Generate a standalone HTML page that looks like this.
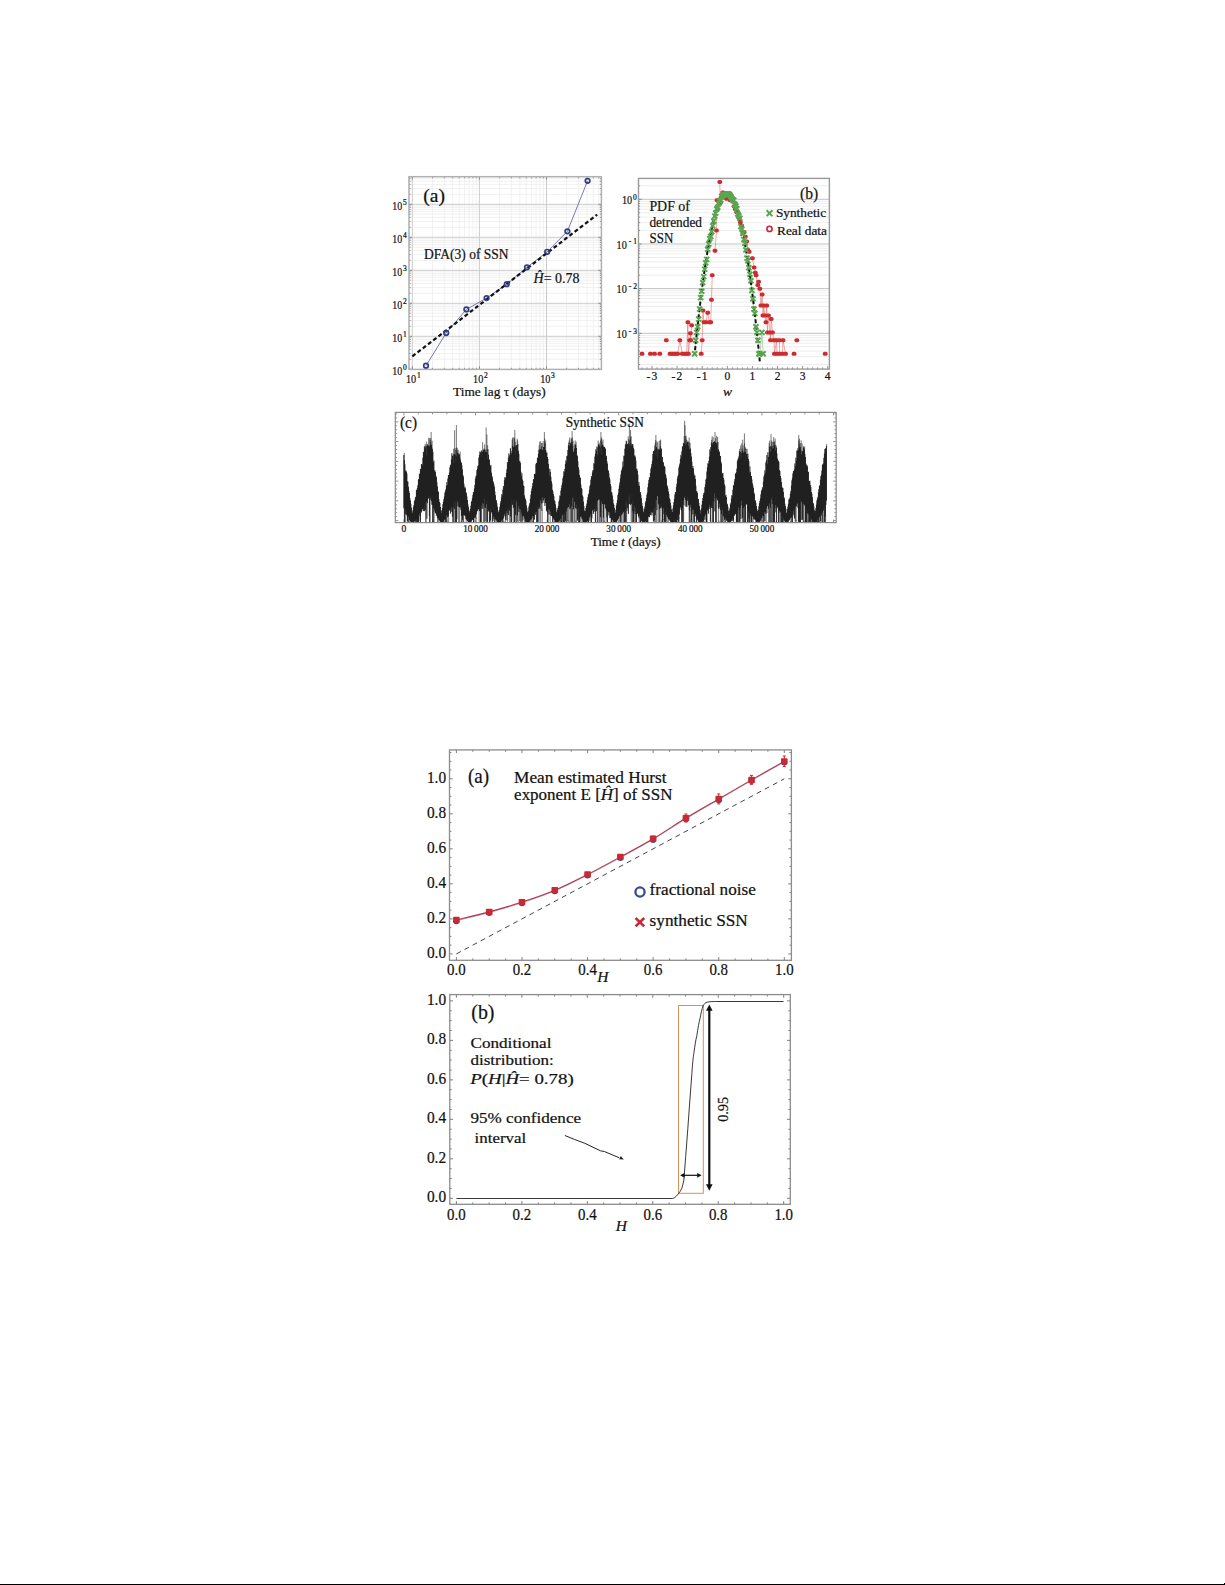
<!DOCTYPE html>
<html><head><meta charset="utf-8"><title>Figure</title>
<style>html,body{margin:0;padding:0;background:#fff;}svg{display:block;}</style>
</head><body>
<svg width="1225" height="1585" viewBox="0 0 1225 1585">
<rect x="0" y="0" width="1225" height="1585" fill="#fff"/>
<g id="f1a">
<g stroke="#eeeeee" stroke-width="0.8">
<line x1="409.23" y1="176.7" x2="409.23" y2="369.4"/>
<line x1="432.5" y1="176.7" x2="432.5" y2="369.4"/>
<line x1="444.31" y1="176.7" x2="444.31" y2="369.4"/>
<line x1="452.7" y1="176.7" x2="452.7" y2="369.4"/>
<line x1="459.2" y1="176.7" x2="459.2" y2="369.4"/>
<line x1="464.51" y1="176.7" x2="464.51" y2="369.4"/>
<line x1="469.01" y1="176.7" x2="469.01" y2="369.4"/>
<line x1="472.9" y1="176.7" x2="472.9" y2="369.4"/>
<line x1="476.33" y1="176.7" x2="476.33" y2="369.4"/>
<line x1="499.6" y1="176.7" x2="499.6" y2="369.4"/>
<line x1="511.41" y1="176.7" x2="511.41" y2="369.4"/>
<line x1="519.8" y1="176.7" x2="519.8" y2="369.4"/>
<line x1="526.3" y1="176.7" x2="526.3" y2="369.4"/>
<line x1="531.61" y1="176.7" x2="531.61" y2="369.4"/>
<line x1="536.11" y1="176.7" x2="536.11" y2="369.4"/>
<line x1="540" y1="176.7" x2="540" y2="369.4"/>
<line x1="543.43" y1="176.7" x2="543.43" y2="369.4"/>
<line x1="566.7" y1="176.7" x2="566.7" y2="369.4"/>
<line x1="578.51" y1="176.7" x2="578.51" y2="369.4"/>
<line x1="586.9" y1="176.7" x2="586.9" y2="369.4"/>
<line x1="593.4" y1="176.7" x2="593.4" y2="369.4"/>
<line x1="598.71" y1="176.7" x2="598.71" y2="369.4"/>
<line x1="409" y1="359.37" x2="601.4" y2="359.37"/>
<line x1="409" y1="353.55" x2="601.4" y2="353.55"/>
<line x1="409" y1="349.43" x2="601.4" y2="349.43"/>
<line x1="409" y1="346.23" x2="601.4" y2="346.23"/>
<line x1="409" y1="343.62" x2="601.4" y2="343.62"/>
<line x1="409" y1="341.41" x2="601.4" y2="341.41"/>
<line x1="409" y1="339.5" x2="601.4" y2="339.5"/>
<line x1="409" y1="337.81" x2="601.4" y2="337.81"/>
<line x1="409" y1="326.37" x2="601.4" y2="326.37"/>
<line x1="409" y1="320.55" x2="601.4" y2="320.55"/>
<line x1="409" y1="316.43" x2="601.4" y2="316.43"/>
<line x1="409" y1="313.23" x2="601.4" y2="313.23"/>
<line x1="409" y1="310.62" x2="601.4" y2="310.62"/>
<line x1="409" y1="308.41" x2="601.4" y2="308.41"/>
<line x1="409" y1="306.5" x2="601.4" y2="306.5"/>
<line x1="409" y1="304.81" x2="601.4" y2="304.81"/>
<line x1="409" y1="293.37" x2="601.4" y2="293.37"/>
<line x1="409" y1="287.55" x2="601.4" y2="287.55"/>
<line x1="409" y1="283.43" x2="601.4" y2="283.43"/>
<line x1="409" y1="280.23" x2="601.4" y2="280.23"/>
<line x1="409" y1="277.62" x2="601.4" y2="277.62"/>
<line x1="409" y1="275.41" x2="601.4" y2="275.41"/>
<line x1="409" y1="273.5" x2="601.4" y2="273.5"/>
<line x1="409" y1="271.81" x2="601.4" y2="271.81"/>
<line x1="409" y1="260.37" x2="601.4" y2="260.37"/>
<line x1="409" y1="254.55" x2="601.4" y2="254.55"/>
<line x1="409" y1="250.43" x2="601.4" y2="250.43"/>
<line x1="409" y1="247.23" x2="601.4" y2="247.23"/>
<line x1="409" y1="244.62" x2="601.4" y2="244.62"/>
<line x1="409" y1="242.41" x2="601.4" y2="242.41"/>
<line x1="409" y1="240.5" x2="601.4" y2="240.5"/>
<line x1="409" y1="238.81" x2="601.4" y2="238.81"/>
<line x1="409" y1="227.37" x2="601.4" y2="227.37"/>
<line x1="409" y1="221.55" x2="601.4" y2="221.55"/>
<line x1="409" y1="217.43" x2="601.4" y2="217.43"/>
<line x1="409" y1="214.23" x2="601.4" y2="214.23"/>
<line x1="409" y1="211.62" x2="601.4" y2="211.62"/>
<line x1="409" y1="209.41" x2="601.4" y2="209.41"/>
<line x1="409" y1="207.5" x2="601.4" y2="207.5"/>
<line x1="409" y1="205.81" x2="601.4" y2="205.81"/>
<line x1="409" y1="194.37" x2="601.4" y2="194.37"/>
<line x1="409" y1="188.55" x2="601.4" y2="188.55"/>
<line x1="409" y1="184.43" x2="601.4" y2="184.43"/>
<line x1="409" y1="181.23" x2="601.4" y2="181.23"/>
<line x1="409" y1="178.62" x2="601.4" y2="178.62"/>
</g>
<g stroke="#cccccc" stroke-width="1">
<line x1="412.3" y1="176.7" x2="412.3" y2="369.4"/>
<line x1="479.4" y1="176.7" x2="479.4" y2="369.4"/>
<line x1="546.5" y1="176.7" x2="546.5" y2="369.4"/>
<line x1="409" y1="336.3" x2="601.4" y2="336.3"/>
<line x1="409" y1="303.3" x2="601.4" y2="303.3"/>
<line x1="409" y1="270.3" x2="601.4" y2="270.3"/>
<line x1="409" y1="237.3" x2="601.4" y2="237.3"/>
<line x1="409" y1="204.3" x2="601.4" y2="204.3"/>
</g>
<path d="M409.23 369.4v-1.6M409.23 176.7v1.6M412.3 369.4v-3M412.3 176.7v3M432.5 369.4v-1.6M432.5 176.7v1.6M444.31 369.4v-1.6M444.31 176.7v1.6M452.7 369.4v-1.6M452.7 176.7v1.6M459.2 369.4v-1.6M459.2 176.7v1.6M464.51 369.4v-1.6M464.51 176.7v1.6M469.01 369.4v-1.6M469.01 176.7v1.6M472.9 369.4v-1.6M472.9 176.7v1.6M476.33 369.4v-1.6M476.33 176.7v1.6M479.4 369.4v-3M479.4 176.7v3M499.6 369.4v-1.6M499.6 176.7v1.6M511.41 369.4v-1.6M511.41 176.7v1.6M519.8 369.4v-1.6M519.8 176.7v1.6M526.3 369.4v-1.6M526.3 176.7v1.6M531.61 369.4v-1.6M531.61 176.7v1.6M536.11 369.4v-1.6M536.11 176.7v1.6M540 369.4v-1.6M540 176.7v1.6M543.43 369.4v-1.6M543.43 176.7v1.6M546.5 369.4v-3M546.5 176.7v3M566.7 369.4v-1.6M566.7 176.7v1.6M578.51 369.4v-1.6M578.51 176.7v1.6M586.9 369.4v-1.6M586.9 176.7v1.6M593.4 369.4v-1.6M593.4 176.7v1.6M598.71 369.4v-1.6M598.71 176.7v1.6M409 369.3h3M601.4 369.3h-3M409 359.37h1.6M601.4 359.37h-1.6M409 353.55h1.6M601.4 353.55h-1.6M409 349.43h1.6M601.4 349.43h-1.6M409 346.23h1.6M601.4 346.23h-1.6M409 343.62h1.6M601.4 343.62h-1.6M409 341.41h1.6M601.4 341.41h-1.6M409 339.5h1.6M601.4 339.5h-1.6M409 337.81h1.6M601.4 337.81h-1.6M409 336.3h3M601.4 336.3h-3M409 326.37h1.6M601.4 326.37h-1.6M409 320.55h1.6M601.4 320.55h-1.6M409 316.43h1.6M601.4 316.43h-1.6M409 313.23h1.6M601.4 313.23h-1.6M409 310.62h1.6M601.4 310.62h-1.6M409 308.41h1.6M601.4 308.41h-1.6M409 306.5h1.6M601.4 306.5h-1.6M409 304.81h1.6M601.4 304.81h-1.6M409 303.3h3M601.4 303.3h-3M409 293.37h1.6M601.4 293.37h-1.6M409 287.55h1.6M601.4 287.55h-1.6M409 283.43h1.6M601.4 283.43h-1.6M409 280.23h1.6M601.4 280.23h-1.6M409 277.62h1.6M601.4 277.62h-1.6M409 275.41h1.6M601.4 275.41h-1.6M409 273.5h1.6M601.4 273.5h-1.6M409 271.81h1.6M601.4 271.81h-1.6M409 270.3h3M601.4 270.3h-3M409 260.37h1.6M601.4 260.37h-1.6M409 254.55h1.6M601.4 254.55h-1.6M409 250.43h1.6M601.4 250.43h-1.6M409 247.23h1.6M601.4 247.23h-1.6M409 244.62h1.6M601.4 244.62h-1.6M409 242.41h1.6M601.4 242.41h-1.6M409 240.5h1.6M601.4 240.5h-1.6M409 238.81h1.6M601.4 238.81h-1.6M409 237.3h3M601.4 237.3h-3M409 227.37h1.6M601.4 227.37h-1.6M409 221.55h1.6M601.4 221.55h-1.6M409 217.43h1.6M601.4 217.43h-1.6M409 214.23h1.6M601.4 214.23h-1.6M409 211.62h1.6M601.4 211.62h-1.6M409 209.41h1.6M601.4 209.41h-1.6M409 207.5h1.6M601.4 207.5h-1.6M409 205.81h1.6M601.4 205.81h-1.6M409 204.3h3M601.4 204.3h-3M409 194.37h1.6M601.4 194.37h-1.6M409 188.55h1.6M601.4 188.55h-1.6M409 184.43h1.6M601.4 184.43h-1.6M409 181.23h1.6M601.4 181.23h-1.6M409 178.62h1.6M601.4 178.62h-1.6" stroke="#777" stroke-width="0.8" fill="none"/>
<rect x="409" y="176.7" width="192.4" height="192.7" fill="none" stroke="#b0b0b0" stroke-width="1.5"/>
<polyline fill="none" stroke="#555b96" stroke-width="0.8" points="426,365.67 446.2,333 466.39,309.41 486.59,298.09 506.79,284.16 526.99,267.33 547.19,251.82 567.39,231.36 587.59,180.87"/>
<line x1="412.3" y1="356.43" x2="597.16" y2="214.6" stroke="#111" stroke-width="2.2" stroke-dasharray="4,2.6"/>
<circle cx="426" cy="365.67" r="2.3" fill="none" stroke="#353c82" stroke-width="1.7"/>
<circle cx="446.2" cy="333" r="2.3" fill="none" stroke="#353c82" stroke-width="1.7"/>
<circle cx="466.39" cy="309.41" r="2.3" fill="none" stroke="#353c82" stroke-width="1.7"/>
<circle cx="486.59" cy="298.09" r="2.3" fill="none" stroke="#353c82" stroke-width="1.7"/>
<circle cx="506.79" cy="284.16" r="2.3" fill="none" stroke="#353c82" stroke-width="1.7"/>
<circle cx="526.99" cy="267.33" r="2.3" fill="none" stroke="#353c82" stroke-width="1.7"/>
<circle cx="547.19" cy="251.82" r="2.3" fill="none" stroke="#353c82" stroke-width="1.7"/>
<circle cx="567.39" cy="231.36" r="2.3" fill="none" stroke="#353c82" stroke-width="1.7"/>
<circle cx="587.59" cy="180.87" r="2.3" fill="none" stroke="#353c82" stroke-width="1.7"/>
<g font-family="'Liberation Serif','Times New Roman',serif" stroke="#111" stroke-width="0.22">
<text x="423.3" y="202.2" font-size="19.5" text-anchor="start" fill="#111" >(a)</text>
<text x="424.1" y="258.9" font-size="14.2" text-anchor="start" fill="#111" textLength="84.5" lengthAdjust="spacingAndGlyphs" >DFA(3) of SSN</text>
<text x="533.6" y="282.7" font-size="14.4" fill="#111" textLength="46" lengthAdjust="spacingAndGlyphs"><tspan font-style="italic">Ĥ</tspan>= 0.78</text>
<text x="392.3" y="374.8" font-size="12.7" text-anchor="start" fill="#111" textLength="9.9" lengthAdjust="spacingAndGlyphs" >10</text>
<text x="402.9" y="369.5" font-size="7.5" text-anchor="start" fill="#111" >0</text>
<text x="392.3" y="341.8" font-size="12.7" text-anchor="start" fill="#111" textLength="9.9" lengthAdjust="spacingAndGlyphs" >10</text>
<text x="402.9" y="336.5" font-size="7.5" text-anchor="start" fill="#111" >1</text>
<text x="392.3" y="308.8" font-size="12.7" text-anchor="start" fill="#111" textLength="9.9" lengthAdjust="spacingAndGlyphs" >10</text>
<text x="402.9" y="303.5" font-size="7.5" text-anchor="start" fill="#111" >2</text>
<text x="392.3" y="275.8" font-size="12.7" text-anchor="start" fill="#111" textLength="9.9" lengthAdjust="spacingAndGlyphs" >10</text>
<text x="402.9" y="270.5" font-size="7.5" text-anchor="start" fill="#111" >3</text>
<text x="392.3" y="242.8" font-size="12.7" text-anchor="start" fill="#111" textLength="9.9" lengthAdjust="spacingAndGlyphs" >10</text>
<text x="402.9" y="237.5" font-size="7.5" text-anchor="start" fill="#111" >4</text>
<text x="392.3" y="209.8" font-size="12.7" text-anchor="start" fill="#111" textLength="9.9" lengthAdjust="spacingAndGlyphs" >10</text>
<text x="402.9" y="204.5" font-size="7.5" text-anchor="start" fill="#111" >5</text>
<text x="406" y="383.2" font-size="12.7" text-anchor="start" fill="#111" textLength="10.2" lengthAdjust="spacingAndGlyphs" >10</text>
<text x="416.9" y="378" font-size="7.5" text-anchor="start" fill="#111" >1</text>
<text x="473.1" y="383.2" font-size="12.7" text-anchor="start" fill="#111" textLength="10.2" lengthAdjust="spacingAndGlyphs" >10</text>
<text x="484" y="378" font-size="7.5" text-anchor="start" fill="#111" >2</text>
<text x="540.2" y="383.2" font-size="12.7" text-anchor="start" fill="#111" textLength="10.2" lengthAdjust="spacingAndGlyphs" >10</text>
<text x="551.1" y="378" font-size="7.5" text-anchor="start" fill="#111" >3</text>
<text x="499.4" y="395.9" font-size="13.3" text-anchor="middle" fill="#111" textLength="92.6" lengthAdjust="spacingAndGlyphs" >Time lag τ (days)</text>
</g>
</g>
<g id="f1b">
<g stroke="#e8e8e8" stroke-width="0.8">
<line x1="638.5" y1="364.53" x2="829.4" y2="364.53"/>
<line x1="638.5" y1="356.67" x2="829.4" y2="356.67"/>
<line x1="638.5" y1="351.09" x2="829.4" y2="351.09"/>
<line x1="638.5" y1="346.76" x2="829.4" y2="346.76"/>
<line x1="638.5" y1="343.22" x2="829.4" y2="343.22"/>
<line x1="638.5" y1="340.23" x2="829.4" y2="340.23"/>
<line x1="638.5" y1="337.64" x2="829.4" y2="337.64"/>
<line x1="638.5" y1="335.35" x2="829.4" y2="335.35"/>
<line x1="638.5" y1="319.86" x2="829.4" y2="319.86"/>
<line x1="638.5" y1="312" x2="829.4" y2="312"/>
<line x1="638.5" y1="306.42" x2="829.4" y2="306.42"/>
<line x1="638.5" y1="302.09" x2="829.4" y2="302.09"/>
<line x1="638.5" y1="298.55" x2="829.4" y2="298.55"/>
<line x1="638.5" y1="295.56" x2="829.4" y2="295.56"/>
<line x1="638.5" y1="292.97" x2="829.4" y2="292.97"/>
<line x1="638.5" y1="290.68" x2="829.4" y2="290.68"/>
<line x1="638.5" y1="275.19" x2="829.4" y2="275.19"/>
<line x1="638.5" y1="267.33" x2="829.4" y2="267.33"/>
<line x1="638.5" y1="261.75" x2="829.4" y2="261.75"/>
<line x1="638.5" y1="257.42" x2="829.4" y2="257.42"/>
<line x1="638.5" y1="253.88" x2="829.4" y2="253.88"/>
<line x1="638.5" y1="250.89" x2="829.4" y2="250.89"/>
<line x1="638.5" y1="248.3" x2="829.4" y2="248.3"/>
<line x1="638.5" y1="246.01" x2="829.4" y2="246.01"/>
<line x1="638.5" y1="230.52" x2="829.4" y2="230.52"/>
<line x1="638.5" y1="222.66" x2="829.4" y2="222.66"/>
<line x1="638.5" y1="217.08" x2="829.4" y2="217.08"/>
<line x1="638.5" y1="212.75" x2="829.4" y2="212.75"/>
<line x1="638.5" y1="209.21" x2="829.4" y2="209.21"/>
<line x1="638.5" y1="206.22" x2="829.4" y2="206.22"/>
<line x1="638.5" y1="203.63" x2="829.4" y2="203.63"/>
<line x1="638.5" y1="201.34" x2="829.4" y2="201.34"/>
<line x1="638.5" y1="185.85" x2="829.4" y2="185.85"/>
</g>
<g stroke="#c2c2c2" stroke-width="1">
<line x1="638.5" y1="333.31" x2="829.4" y2="333.31"/>
<line x1="638.5" y1="288.64" x2="829.4" y2="288.64"/>
<line x1="638.5" y1="243.97" x2="829.4" y2="243.97"/>
<line x1="638.5" y1="199.3" x2="829.4" y2="199.3"/>
</g>
<path d="M641.96 369.1v-1.8M646.98 369.1v-1.8M652 369.1v-3.2M657.02 369.1v-1.8M662.04 369.1v-1.8M667.06 369.1v-1.8M672.08 369.1v-1.8M677.1 369.1v-3.2M682.12 369.1v-1.8M687.14 369.1v-1.8M692.16 369.1v-1.8M697.18 369.1v-1.8M702.2 369.1v-3.2M707.22 369.1v-1.8M712.24 369.1v-1.8M717.26 369.1v-1.8M722.28 369.1v-1.8M727.3 369.1v-3.2M732.32 369.1v-1.8M737.34 369.1v-1.8M742.36 369.1v-1.8M747.38 369.1v-1.8M752.4 369.1v-3.2M757.42 369.1v-1.8M762.44 369.1v-1.8M767.46 369.1v-1.8M772.48 369.1v-1.8M777.5 369.1v-3.2M782.52 369.1v-1.8M787.54 369.1v-1.8M792.56 369.1v-1.8M797.58 369.1v-1.8M802.6 369.1v-3.2M807.62 369.1v-1.8M812.64 369.1v-1.8M817.66 369.1v-1.8M822.68 369.1v-1.8M827.7 369.1v-3.2M638.5 364.53h1.6M638.5 356.67h1.6M638.5 351.09h1.6M638.5 346.76h1.6M638.5 343.22h1.6M638.5 340.23h1.6M638.5 337.64h1.6M638.5 335.35h1.6M638.5 333.31h3.2M638.5 319.86h1.6M638.5 312h1.6M638.5 306.42h1.6M638.5 302.09h1.6M638.5 298.55h1.6M638.5 295.56h1.6M638.5 292.97h1.6M638.5 290.68h1.6M638.5 288.64h3.2M638.5 275.19h1.6M638.5 267.33h1.6M638.5 261.75h1.6M638.5 257.42h1.6M638.5 253.88h1.6M638.5 250.89h1.6M638.5 248.3h1.6M638.5 246.01h1.6M638.5 243.97h3.2M638.5 230.52h1.6M638.5 222.66h1.6M638.5 217.08h1.6M638.5 212.75h1.6M638.5 209.21h1.6M638.5 206.22h1.6M638.5 203.63h1.6M638.5 201.34h1.6M638.5 199.3h3.2M638.5 185.85h1.6" stroke="#777" stroke-width="0.8" fill="none"/>
<rect x="638.5" y="178.4" width="190.9" height="190.7" fill="none" stroke="#9a9a9a" stroke-width="1.4"/>
<path fill="none" stroke="#d9534f" stroke-opacity="0.7" stroke-width="0.7" d="M670.07 353.86L672.08 353.86M672.08 353.86L673.84 353.86M673.84 353.86L675.84 353.86M675.84 353.86L677.6 353.86M677.6 353.86L679.86 340.32M679.86 340.32L682.37 353.86M682.37 353.86L684.63 353.86M684.63 353.86L686.64 353.86M686.64 353.86L687.89 322.14M687.89 322.14L688.39 353.86M688.39 353.86L689.65 340.32M689.65 340.32L690.4 333.31M690.4 333.31L690.65 340.32M690.65 340.32L691.66 325.27M701.2 353.86L702.2 340.32M702.2 340.32L702.95 310.53M702.95 310.53L703.96 322.14M703.96 322.14L705.96 322.14M705.96 322.14L707.72 312.76M707.72 312.76L709.48 322.14M709.48 322.14L710.73 322.14M710.73 322.14L711.49 299.81M711.49 299.81L712.24 275.24M715 250.67L716.51 230.57M716.51 230.57L717.01 200.19M719.77 181.88L720.27 203.06M720.27 203.06L721.53 196.95M721.53 196.95L722.78 192.42M722.78 192.42L724.04 193M724.04 193L725.29 197.68M725.29 197.68L726.55 198.69M726.55 198.69L727.8 193.43M727.8 193.43L729.06 197.29M729.06 197.29L730.31 200.25M730.31 200.25L731.57 199.04M731.57 199.04L732.82 201.56M732.82 201.56L734.08 206.17M734.08 206.17L735.33 209.09M735.33 209.09L736.59 211.97M736.59 211.97L737.84 213.24M737.84 213.24L739.1 218.45M739.1 218.45L740.35 222.2M740.35 222.2L741.61 225.81M741.61 225.81L742.86 233.36M742.86 233.36L744.12 232.12M744.12 232.12L745.37 236.64M745.37 236.64L746.63 241.42M746.63 241.42L747.88 249.99M747.88 249.99L749.14 251.76M752.4 258.26L754.11 267.47M754.11 267.47L755.31 272.78M755.31 272.78L756.09 275.24M756.09 275.24L757.8 285.07M757.8 285.07L758.6 281.72M758.6 281.72L759.8 288.64M759.8 288.64L760.93 305.61M760.93 305.61L762.19 294.45M762.19 294.45L762.94 315.44M762.94 315.44L763.69 305.61M763.69 305.61L764.95 315.44M764.95 315.44L765.95 322.14M765.95 322.14L766.71 305.61M766.71 305.61L767.46 332.42M767.46 332.42L768.46 315.44M768.46 315.44L769.97 332.42M769.97 332.42L770.47 340.32M770.47 340.32L771.22 319.02M771.22 319.02L772.48 332.42M772.48 332.42L773.99 340.32M773.99 340.32L774.49 353.86M774.49 353.86L776.5 340.32M776.5 340.32L777 353.86M779.51 353.86L779.51 340.32M782.27 353.86L783.02 340.32M783.02 340.32L785.53 353.86"/>
<path fill="none" stroke="#6ab061" stroke-opacity="0.7" stroke-width="0.7" d="M694.67 353.68L695.67 340.23M695.67 340.23L696.68 332.36M696.68 332.36L697.68 326.78M697.68 326.78L698.69 318.92M698.69 318.92L699.69 309.01M699.69 309.01L700.69 297.6M700.69 297.6L701.7 291.23M701.7 291.23L702.7 282.6M702.7 282.6L703.71 276.65M703.71 276.65L704.71 269.16M704.71 269.16L705.71 262.84M705.71 262.84L706.72 259.4M706.72 259.4L707.72 249.31M707.72 249.31L708.73 244.02M708.73 244.02L709.73 238.59M709.73 238.59L710.73 236.54M710.73 236.54L711.74 231.62M711.74 231.62L712.74 225.85M712.74 225.85L713.75 221.03M713.75 221.03L714.75 216.15M714.75 216.15L715.75 212.95M715.75 212.95L716.76 209.02M716.76 209.02L717.76 207.27M717.76 207.27L718.77 203.61M718.77 203.61L719.77 201.17M719.77 201.17L720.77 200.07M720.77 200.07L721.78 196.32M721.78 196.32L722.78 195.88M722.78 195.88L723.79 194.33M723.79 194.33L724.79 194.81M724.79 194.81L725.79 194.35M725.79 194.35L726.8 193.91M726.8 193.91L727.8 193.91M727.8 193.91L728.81 193.91M728.81 193.91L729.81 194.89M729.81 194.89L730.81 196.45M730.81 196.45L731.82 198.25M731.82 198.25L732.82 199.64M732.82 199.64L733.83 200.13M733.83 200.13L734.83 204.3M734.83 204.3L735.83 205.93M735.83 205.93L736.84 208.68M736.84 208.68L737.84 214.02M737.84 214.02L738.85 215.9M738.85 215.9L739.85 218.26M739.85 218.26L740.85 226.59M740.85 226.59L741.86 228.97M741.86 228.97L742.86 233.51M742.86 233.51L743.87 239.65M743.87 239.65L744.87 243.22M744.87 243.22L745.87 249.85M745.87 249.85L746.88 258.09M746.88 258.09L747.88 260.8M747.88 260.8L748.89 267.72M748.89 267.72L749.89 274.25M749.89 274.25L750.89 280.71M750.89 280.71L751.9 290.47M751.9 290.47L752.9 298.71M752.9 298.71L753.91 309.01M753.91 309.01L754.91 313.34M754.91 313.34L755.91 326.78M755.91 326.78L756.92 332.36M756.92 332.36L757.92 340.23M757.92 340.23L758.93 353.68M758.93 353.68L759.93 353.68M759.93 353.68L761.94 332.36M761.94 332.36L763.19 353.68"/>
<polyline fill="none" stroke="#111" stroke-width="2" stroke-dasharray="4,2.4" points="695.05,350.19 695.55,345.27 696.05,340.43 696.55,335.67 697.05,330.99 697.56,326.38 698.06,321.86 698.56,317.41 699.06,313.04 699.56,308.74 700.07,304.53 700.57,300.39 701.07,296.33 701.57,292.35 702.07,288.45 702.58,284.63 703.08,280.88 703.58,277.22 704.08,273.63 704.58,270.12 705.09,266.68 705.59,263.33 706.09,260.05 706.59,256.86 707.09,253.74 707.6,250.69 708.1,247.73 708.6,244.85 709.1,242.04 709.6,239.31 710.11,236.66 710.61,234.09 711.11,231.59 711.61,229.18 712.11,226.84 712.62,224.58 713.12,222.4 713.62,220.29 714.12,218.27 714.62,216.32 715.13,214.45 715.63,212.66 716.13,210.95 716.63,209.32 717.13,207.76 717.64,206.28 718.14,204.88 718.64,203.56 719.14,202.32 719.64,201.15 720.15,200.07 720.65,199.06 721.15,198.13 721.65,197.27 722.15,196.5 722.66,195.8 723.16,195.19 723.66,194.65 724.16,194.19 724.66,193.8 725.17,193.5 725.67,193.27 726.17,193.12 726.67,193.05 727.17,193.06 727.68,193.15 728.18,193.31 728.68,193.55 729.18,193.87 729.68,194.27 730.19,194.75 730.69,195.3 731.19,195.94 731.69,196.65 732.19,197.44 732.7,198.31 733.2,199.25 733.7,200.28 734.2,201.38 734.7,202.56 735.21,203.82 735.71,205.16 736.21,206.57 736.71,208.07 737.21,209.64 737.72,211.29 738.22,213.01 738.72,214.82 739.22,216.71 739.72,218.67 740.23,220.71 740.73,222.83 741.23,225.02 741.73,227.3 742.23,229.65 742.74,232.09 743.24,234.59 743.74,237.18 744.24,239.85 744.74,242.59 745.25,245.42 745.75,248.32 746.25,251.3 746.75,254.35 747.25,257.49 747.76,260.7 748.26,263.99 748.76,267.36 749.26,270.81 749.76,274.34 750.27,277.94 750.77,281.63 751.27,285.39 751.77,289.23 752.27,293.14 752.78,297.14 753.28,301.21 753.78,305.37 754.28,309.6 754.78,313.9 755.29,318.29 755.79,322.75 756.29,327.3 756.79,331.92 757.29,336.62 757.8,341.4 758.3,346.25 758.8,351.18 759.3,356.2 759.8,361.29"/>
<g fill="#cc2b2f">
<rect x="639.56" y="351.86" width="4.8" height="4" rx="1.7"/>
<rect x="648.09" y="351.86" width="4.8" height="4" rx="1.7"/>
<rect x="652.11" y="351.86" width="4.8" height="4" rx="1.7"/>
<rect x="657.38" y="351.86" width="4.8" height="4" rx="1.7"/>
<rect x="663.91" y="338.32" width="4.8" height="4" rx="1.7"/>
<rect x="667.67" y="351.86" width="4.8" height="4" rx="1.7"/>
<rect x="669.68" y="351.86" width="4.8" height="4" rx="1.7"/>
<rect x="671.44" y="351.86" width="4.8" height="4" rx="1.7"/>
<rect x="673.44" y="351.86" width="4.8" height="4" rx="1.7"/>
<rect x="675.2" y="351.86" width="4.8" height="4" rx="1.7"/>
<rect x="677.46" y="338.32" width="4.8" height="4" rx="1.7"/>
<rect x="679.97" y="351.86" width="4.8" height="4" rx="1.7"/>
<rect x="682.23" y="351.86" width="4.8" height="4" rx="1.7"/>
<rect x="684.24" y="351.86" width="4.8" height="4" rx="1.7"/>
<rect x="685.49" y="320.14" width="4.8" height="4" rx="1.7"/>
<rect x="686" y="351.86" width="4.8" height="4" rx="1.7"/>
<rect x="687.25" y="338.32" width="4.8" height="4" rx="1.7"/>
<rect x="688" y="331.31" width="4.8" height="4" rx="1.7"/>
<rect x="688.25" y="338.32" width="4.8" height="4" rx="1.7"/>
<rect x="689.26" y="323.27" width="4.8" height="4" rx="1.7"/>
<rect x="698.8" y="351.86" width="4.8" height="4" rx="1.7"/>
<rect x="699.8" y="338.32" width="4.8" height="4" rx="1.7"/>
<rect x="700.55" y="308.53" width="4.8" height="4" rx="1.7"/>
<rect x="701.56" y="320.14" width="4.8" height="4" rx="1.7"/>
<rect x="703.56" y="320.14" width="4.8" height="4" rx="1.7"/>
<rect x="705.32" y="310.76" width="4.8" height="4" rx="1.7"/>
<rect x="707.08" y="320.14" width="4.8" height="4" rx="1.7"/>
<rect x="708.33" y="320.14" width="4.8" height="4" rx="1.7"/>
<rect x="709.09" y="297.81" width="4.8" height="4" rx="1.7"/>
<rect x="709.84" y="273.24" width="4.8" height="4" rx="1.7"/>
<rect x="712.6" y="248.67" width="4.8" height="4" rx="1.7"/>
<rect x="714.11" y="228.57" width="4.8" height="4" rx="1.7"/>
<rect x="714.61" y="198.19" width="4.8" height="4" rx="1.7"/>
<rect x="717.37" y="179.88" width="4.8" height="4" rx="1.7"/>
<rect x="717.87" y="201.06" width="4.8" height="4" rx="1.7"/>
<rect x="719.13" y="194.95" width="4.8" height="4" rx="1.7"/>
<rect x="720.38" y="190.42" width="4.8" height="4" rx="1.7"/>
<rect x="721.64" y="191" width="4.8" height="4" rx="1.7"/>
<rect x="722.89" y="195.68" width="4.8" height="4" rx="1.7"/>
<rect x="724.15" y="196.69" width="4.8" height="4" rx="1.7"/>
<rect x="725.4" y="191.43" width="4.8" height="4" rx="1.7"/>
<rect x="726.66" y="195.29" width="4.8" height="4" rx="1.7"/>
<rect x="727.91" y="198.25" width="4.8" height="4" rx="1.7"/>
<rect x="729.17" y="197.04" width="4.8" height="4" rx="1.7"/>
<rect x="730.42" y="199.56" width="4.8" height="4" rx="1.7"/>
<rect x="731.68" y="204.17" width="4.8" height="4" rx="1.7"/>
<rect x="732.93" y="207.09" width="4.8" height="4" rx="1.7"/>
<rect x="734.19" y="209.97" width="4.8" height="4" rx="1.7"/>
<rect x="735.44" y="211.24" width="4.8" height="4" rx="1.7"/>
<rect x="736.7" y="216.45" width="4.8" height="4" rx="1.7"/>
<rect x="737.95" y="220.2" width="4.8" height="4" rx="1.7"/>
<rect x="739.21" y="223.81" width="4.8" height="4" rx="1.7"/>
<rect x="740.46" y="231.36" width="4.8" height="4" rx="1.7"/>
<rect x="741.72" y="230.12" width="4.8" height="4" rx="1.7"/>
<rect x="742.97" y="234.64" width="4.8" height="4" rx="1.7"/>
<rect x="744.23" y="239.42" width="4.8" height="4" rx="1.7"/>
<rect x="745.48" y="247.99" width="4.8" height="4" rx="1.7"/>
<rect x="746.74" y="249.76" width="4.8" height="4" rx="1.7"/>
<rect x="750" y="256.26" width="4.8" height="4" rx="1.7"/>
<rect x="751.71" y="265.47" width="4.8" height="4" rx="1.7"/>
<rect x="752.91" y="270.78" width="4.8" height="4" rx="1.7"/>
<rect x="753.69" y="273.24" width="4.8" height="4" rx="1.7"/>
<rect x="755.4" y="283.07" width="4.8" height="4" rx="1.7"/>
<rect x="756.2" y="279.72" width="4.8" height="4" rx="1.7"/>
<rect x="757.4" y="286.64" width="4.8" height="4" rx="1.7"/>
<rect x="758.53" y="303.61" width="4.8" height="4" rx="1.7"/>
<rect x="759.79" y="292.45" width="4.8" height="4" rx="1.7"/>
<rect x="760.54" y="313.44" width="4.8" height="4" rx="1.7"/>
<rect x="761.29" y="303.61" width="4.8" height="4" rx="1.7"/>
<rect x="762.55" y="313.44" width="4.8" height="4" rx="1.7"/>
<rect x="763.55" y="320.14" width="4.8" height="4" rx="1.7"/>
<rect x="764.31" y="303.61" width="4.8" height="4" rx="1.7"/>
<rect x="765.06" y="330.42" width="4.8" height="4" rx="1.7"/>
<rect x="766.06" y="313.44" width="4.8" height="4" rx="1.7"/>
<rect x="767.57" y="330.42" width="4.8" height="4" rx="1.7"/>
<rect x="768.07" y="338.32" width="4.8" height="4" rx="1.7"/>
<rect x="768.82" y="317.02" width="4.8" height="4" rx="1.7"/>
<rect x="770.08" y="330.42" width="4.8" height="4" rx="1.7"/>
<rect x="771.59" y="338.32" width="4.8" height="4" rx="1.7"/>
<rect x="772.09" y="351.86" width="4.8" height="4" rx="1.7"/>
<rect x="774.1" y="338.32" width="4.8" height="4" rx="1.7"/>
<rect x="774.6" y="351.86" width="4.8" height="4" rx="1.7"/>
<rect x="777.11" y="351.86" width="4.8" height="4" rx="1.7"/>
<rect x="777.11" y="338.32" width="4.8" height="4" rx="1.7"/>
<rect x="779.87" y="351.86" width="4.8" height="4" rx="1.7"/>
<rect x="780.62" y="338.32" width="4.8" height="4" rx="1.7"/>
<rect x="783.13" y="351.86" width="4.8" height="4" rx="1.7"/>
<rect x="791.67" y="351.86" width="4.8" height="4" rx="1.7"/>
<rect x="794.43" y="338.32" width="4.8" height="4" rx="1.7"/>
<rect x="822.79" y="351.86" width="4.8" height="4" rx="1.7"/>
</g>
<path d="M692.17 351.18l5 5M697.17 351.18l-5 5M693.17 337.73l5 5M698.17 337.73l-5 5M694.18 329.86l5 5M699.18 329.86l-5 5M695.18 324.28l5 5M700.18 324.28l-5 5M696.19 316.42l5 5M701.19 316.42l-5 5M697.19 306.51l5 5M702.19 306.51l-5 5M698.19 295.1l5 5M703.19 295.1l-5 5M699.2 288.73l5 5M704.2 288.73l-5 5M700.2 280.1l5 5M705.2 280.1l-5 5M701.21 274.15l5 5M706.21 274.15l-5 5M702.21 266.66l5 5M707.21 266.66l-5 5M703.21 260.34l5 5M708.21 260.34l-5 5M704.22 256.9l5 5M709.22 256.9l-5 5M705.22 246.81l5 5M710.22 246.81l-5 5M706.23 241.52l5 5M711.23 241.52l-5 5M707.23 236.09l5 5M712.23 236.09l-5 5M708.23 234.04l5 5M713.23 234.04l-5 5M709.24 229.12l5 5M714.24 229.12l-5 5M710.24 223.35l5 5M715.24 223.35l-5 5M711.25 218.53l5 5M716.25 218.53l-5 5M712.25 213.65l5 5M717.25 213.65l-5 5M713.25 210.45l5 5M718.25 210.45l-5 5M714.26 206.52l5 5M719.26 206.52l-5 5M715.26 204.77l5 5M720.26 204.77l-5 5M716.27 201.11l5 5M721.27 201.11l-5 5M717.27 198.67l5 5M722.27 198.67l-5 5M718.27 197.57l5 5M723.27 197.57l-5 5M719.28 193.82l5 5M724.28 193.82l-5 5M720.28 193.38l5 5M725.28 193.38l-5 5M721.29 191.83l5 5M726.29 191.83l-5 5M722.29 192.31l5 5M727.29 192.31l-5 5M723.29 191.85l5 5M728.29 191.85l-5 5M724.3 191.41l5 5M729.3 191.41l-5 5M725.3 191.41l5 5M730.3 191.41l-5 5M726.31 191.41l5 5M731.31 191.41l-5 5M727.31 192.39l5 5M732.31 192.39l-5 5M728.31 193.95l5 5M733.31 193.95l-5 5M729.32 195.75l5 5M734.32 195.75l-5 5M730.32 197.14l5 5M735.32 197.14l-5 5M731.33 197.63l5 5M736.33 197.63l-5 5M732.33 201.8l5 5M737.33 201.8l-5 5M733.33 203.43l5 5M738.33 203.43l-5 5M734.34 206.18l5 5M739.34 206.18l-5 5M735.34 211.52l5 5M740.34 211.52l-5 5M736.35 213.4l5 5M741.35 213.4l-5 5M737.35 215.76l5 5M742.35 215.76l-5 5M738.35 224.09l5 5M743.35 224.09l-5 5M739.36 226.47l5 5M744.36 226.47l-5 5M740.36 231.01l5 5M745.36 231.01l-5 5M741.37 237.15l5 5M746.37 237.15l-5 5M742.37 240.72l5 5M747.37 240.72l-5 5M743.37 247.35l5 5M748.37 247.35l-5 5M744.38 255.59l5 5M749.38 255.59l-5 5M745.38 258.3l5 5M750.38 258.3l-5 5M746.39 265.22l5 5M751.39 265.22l-5 5M747.39 271.75l5 5M752.39 271.75l-5 5M748.39 278.21l5 5M753.39 278.21l-5 5M749.4 287.97l5 5M754.4 287.97l-5 5M750.4 296.21l5 5M755.4 296.21l-5 5M751.41 306.51l5 5M756.41 306.51l-5 5M752.41 310.84l5 5M757.41 310.84l-5 5M753.41 324.28l5 5M758.41 324.28l-5 5M754.42 329.86l5 5M759.42 329.86l-5 5M755.42 337.73l5 5M760.42 337.73l-5 5M756.43 351.18l5 5M761.43 351.18l-5 5M757.43 351.18l5 5M762.43 351.18l-5 5M759.44 329.86l5 5M764.44 329.86l-5 5M760.69 351.18l5 5M765.69 351.18l-5 5" stroke="#5aa550" stroke-width="2" fill="none"/>
<g font-family="'Liberation Serif','Times New Roman',serif" stroke="#111" stroke-width="0.22">
<text x="800" y="199.4" font-size="17" text-anchor="start" fill="#111" textLength="18.2" lengthAdjust="spacingAndGlyphs" >(b)</text>
<path d="M766.6 210.3l5.8 5.8M772.4 210.3l-5.8 5.8" stroke="#5aa550" stroke-width="2"/>
<circle cx="769.5" cy="228.9" r="2.6" fill="none" stroke="#c8283a" stroke-width="1.6"/>
<text x="775.9" y="217.4" font-size="13" text-anchor="start" fill="#111" textLength="50.3" lengthAdjust="spacingAndGlyphs" >Synthetic</text>
<text x="777" y="234.7" font-size="13" text-anchor="start" fill="#111" textLength="50" lengthAdjust="spacingAndGlyphs" >Real data</text>
<text x="649.4" y="210.8" font-size="14.8" text-anchor="start" fill="#111" textLength="40.5" lengthAdjust="spacingAndGlyphs" >PDF of</text>
<text x="649.4" y="226.8" font-size="14.8" text-anchor="start" fill="#111" textLength="52.6" lengthAdjust="spacingAndGlyphs" >detrended</text>
<text x="649.6" y="242.7" font-size="14.8" text-anchor="start" fill="#111" textLength="23.8" lengthAdjust="spacingAndGlyphs" >SSN</text>
<text x="621.9" y="203.9" font-size="11.8" text-anchor="start" fill="#111" textLength="10.2" lengthAdjust="spacingAndGlyphs" >10</text>
<text x="633" y="199.6" font-size="7.5" text-anchor="start" fill="#111" >0</text>
<text x="616.6" y="248.57" font-size="11.8" text-anchor="start" fill="#111" textLength="10.2" lengthAdjust="spacingAndGlyphs" >10</text>
<text x="628.8" y="244.27" font-size="7.5" text-anchor="start" fill="#111" >-</text>
<text x="633.2" y="244.27" font-size="7.5" text-anchor="start" fill="#111" >1</text>
<text x="616.6" y="293.24" font-size="11.8" text-anchor="start" fill="#111" textLength="10.2" lengthAdjust="spacingAndGlyphs" >10</text>
<text x="628.8" y="288.94" font-size="7.5" text-anchor="start" fill="#111" >-</text>
<text x="633.2" y="288.94" font-size="7.5" text-anchor="start" fill="#111" >2</text>
<text x="616.6" y="337.91" font-size="11.8" text-anchor="start" fill="#111" textLength="10.2" lengthAdjust="spacingAndGlyphs" >10</text>
<text x="628.8" y="333.61" font-size="7.5" text-anchor="start" fill="#111" >-</text>
<text x="633.2" y="333.61" font-size="7.5" text-anchor="start" fill="#111" >3</text>
<text x="646.5" y="380.3" font-size="11.5" text-anchor="start" fill="#111" >-</text>
<text x="654.3" y="380.3" font-size="11.5" text-anchor="middle" fill="#111" >3</text>
<text x="671.6" y="380.3" font-size="11.5" text-anchor="start" fill="#111" >-</text>
<text x="679.4" y="380.3" font-size="11.5" text-anchor="middle" fill="#111" >2</text>
<text x="696.7" y="380.3" font-size="11.5" text-anchor="start" fill="#111" >-</text>
<text x="704.5" y="380.3" font-size="11.5" text-anchor="middle" fill="#111" >1</text>
<text x="727.3" y="380.3" font-size="11.5" text-anchor="middle" fill="#111" >0</text>
<text x="752.4" y="380.3" font-size="11.5" text-anchor="middle" fill="#111" >1</text>
<text x="777.5" y="380.3" font-size="11.5" text-anchor="middle" fill="#111" >2</text>
<text x="802.6" y="380.3" font-size="11.5" text-anchor="middle" fill="#111" >3</text>
<text x="827.7" y="380.3" font-size="11.5" text-anchor="middle" fill="#111" >4</text>
<text x="727.6" y="396.2" font-size="13.5" text-anchor="middle" fill="#111" font-style="italic" >w</text>
</g>
</g>
<g id="f1c">
<path d="M403.9 412.4v3M403.9 522.6v-3M418.22 412.4v2M418.22 522.6v-2M432.54 412.4v2M432.54 522.6v-2M446.86 412.4v2M446.86 522.6v-2M461.18 412.4v2M461.18 522.6v-2M475.5 412.4v3M475.5 522.6v-3M489.82 412.4v2M489.82 522.6v-2M504.14 412.4v2M504.14 522.6v-2M518.46 412.4v2M518.46 522.6v-2M532.78 412.4v2M532.78 522.6v-2M547.1 412.4v3M547.1 522.6v-3M561.42 412.4v2M561.42 522.6v-2M575.74 412.4v2M575.74 522.6v-2M590.06 412.4v2M590.06 522.6v-2M604.38 412.4v2M604.38 522.6v-2M618.7 412.4v3M618.7 522.6v-3M633.02 412.4v2M633.02 522.6v-2M647.34 412.4v2M647.34 522.6v-2M661.66 412.4v2M661.66 522.6v-2M675.98 412.4v2M675.98 522.6v-2M690.3 412.4v3M690.3 522.6v-3M704.62 412.4v2M704.62 522.6v-2M718.94 412.4v2M718.94 522.6v-2M733.26 412.4v2M733.26 522.6v-2M747.58 412.4v2M747.58 522.6v-2M761.9 412.4v3M761.9 522.6v-3M776.22 412.4v2M776.22 522.6v-2M790.54 412.4v2M790.54 522.6v-2M804.86 412.4v2M804.86 522.6v-2M819.18 412.4v2M819.18 522.6v-2M833.5 412.4v3M833.5 522.6v-3M395.3 520.6h3M836.2 520.6h-3M395.3 516.65h1.8M836.2 516.65h-1.8M395.3 512.7h1.8M836.2 512.7h-1.8M395.3 508.75h1.8M836.2 508.75h-1.8M395.3 504.8h1.8M836.2 504.8h-1.8M395.3 500.85h3M836.2 500.85h-3M395.3 496.9h1.8M836.2 496.9h-1.8M395.3 492.95h1.8M836.2 492.95h-1.8M395.3 489h1.8M836.2 489h-1.8M395.3 485.05h1.8M836.2 485.05h-1.8M395.3 481.1h3M836.2 481.1h-3M395.3 477.15h1.8M836.2 477.15h-1.8M395.3 473.2h1.8M836.2 473.2h-1.8M395.3 469.25h1.8M836.2 469.25h-1.8M395.3 465.3h1.8M836.2 465.3h-1.8M395.3 461.35h3M836.2 461.35h-3M395.3 457.4h1.8M836.2 457.4h-1.8M395.3 453.45h1.8M836.2 453.45h-1.8M395.3 449.5h1.8M836.2 449.5h-1.8M395.3 445.55h1.8M836.2 445.55h-1.8M395.3 441.6h3M836.2 441.6h-3M395.3 437.65h1.8M836.2 437.65h-1.8M395.3 433.7h1.8M836.2 433.7h-1.8M395.3 429.75h1.8M836.2 429.75h-1.8M395.3 425.8h1.8M836.2 425.8h-1.8M395.3 421.85h3M836.2 421.85h-3M395.3 417.9h1.8M836.2 417.9h-1.8M395.3 413.95h1.8M836.2 413.95h-1.8" stroke="#777" stroke-width="0.8" fill="none"/>
<path d="M405.65 522.6V513.17M410.15 522.6V518.5M414.65 522.6V519.94M415.65 522.6V519.44M416.65 522.6V518.18M425.15 451.07V443.67M426.65 456.53V441.53M428.65 446.31V437.57M429.65 447.64V438.09M429.65 522.6V514.91M430.15 448.9V439.87M430.65 446.46V441.9M432.15 448.77V440.68M432.65 522.6V503.94M438.15 522.6V521.6M445.15 522.6V517.19M445.65 522.6V518.43M448.65 522.6V515.4M453.65 464.1V448.71M453.65 522.6V504.57M454.15 522.6V506.2M455.15 457.29V448.02M455.65 455.88V449.85M456.65 457.86V447.59M457.15 457.58V447.68M457.65 454.25V450.2M458.15 454.44V449.67M458.65 522.6V501.71M459.65 522.6V506.2M460.15 458.77V451.58M463.15 522.6V514.16M463.65 522.6V514.14M466.15 522.6V518.02M476.15 522.6V517.75M479.15 522.6V505.51M480.65 522.6V520.94M481.65 522.6V504.31M482.65 452.95V442.23M484.15 452.1V448.32M484.65 450.44V444.39M484.65 522.6V497.56M486.65 522.6V503.15M487.65 460.22V445.18M490.15 522.6V507.69M492.15 522.6V510.82M492.65 522.6V513.01M494.65 522.6V516.15M497.15 522.6V520.63M502.65 522.6V518.24M505.65 522.6V518.62M507.65 522.6V511.94M509.65 522.6V508.88M510.65 522.6V515.25M512.15 452.19V439.5M512.65 446.76V437.97M513.15 453.75V437.13M513.15 522.6V503.96M514.65 448.14V438.64M515.65 447.97V441.7M516.15 522.6V506.21M516.65 522.6V498.44M517.15 447.32V438.64M517.65 446.14V440.3M518.15 452.33V443.96M521.65 522.6V511.31M522.65 522.6V515.5M526.65 522.6V521.54M529.65 522.6V520.34M532.15 522.6V517.03M536.65 522.6V510.6M537.15 522.6V521.37M539.15 450.79V445.16M539.65 451.54V441.67M540.65 450.2V441.22M540.65 522.6V498.77M541.65 450.3V443.01M542.15 447.71V443.06M542.15 522.6V509.64M543.15 451.61V441.1M544.65 448.28V442.72M545.15 451.07V443.17M545.65 451.3V440.58M547.65 522.6V511.26M550.15 522.6V513.16M552.65 522.6V516M555.65 522.6V521.07M560.65 522.6V518.08M566.15 522.6V520.49M566.65 522.6V510.39M568.15 522.6V520.26M569.15 443.65V440.49M569.15 522.6V506.16M569.65 447.01V437.46M570.65 522.6V507.09M571.15 446.12V438.07M571.15 522.6V499.22M571.65 445.14V439.08M573.15 447.42V440.79M575.15 445.64V440.47M576.15 446.6V441.76M576.65 522.6V503.54M578.65 522.6V507.17M581.15 522.6V515.74M583.15 522.6V520.88M583.65 522.6V520.45M587.65 522.6V519.77M588.15 522.6V518.93M591.15 522.6V515.58M597.15 522.6V508.11M598.15 448.61V440.42M599.15 445.01V442.46M600.65 449.38V440.47M601.15 447.82V438.67M601.15 522.6V510.64M601.65 456.06V437.26M602.15 446.94V441.3M606.15 522.6V503.6M611.15 522.6V515.33M613.15 522.6V518.77M614.15 522.6V521.12M619.15 522.6V517.39M620.65 522.6V521.55M623.65 522.6V511.11M624.65 522.6V521.54M626.15 449.64V440.58M626.15 522.6V501.5M626.65 522.6V499.5M628.15 448.33V436.39M628.65 444.45V439.15M629.65 446.37V440.59M630.15 449.2V439.78M630.65 446.35V436.75M631.15 444.11V436.26M631.15 522.6V501.19M632.15 522.6V500.35M632.65 522.6V510.17M634.65 522.6V504.62M635.65 522.6V507.3M636.15 522.6V513.09M639.15 522.6V516.44M640.15 522.6V517.6M640.65 522.6V520.97M646.15 522.6V519.29M654.65 451.46V445.58M654.65 522.6V519.39M655.15 454.41V443.23M655.65 449.94V440.1M655.65 522.6V514.05M656.65 522.6V499.07M657.65 459.52V442.38M658.15 522.6V495.31M659.15 449.7V440.89M659.15 522.6V501.81M660.15 450.87V440.4M660.65 447.29V439.57M662.15 522.6V507.59M663.15 522.6V519.04M667.15 522.6V520.56M668.65 522.6V518.13M671.15 522.6V521.25M676.15 522.6V517.12M679.15 522.6V517.41M681.65 522.6V509.46M682.65 522.6V506.94M683.65 522.6V498.97M684.15 444.75V435.97M685.15 447.78V439.51M685.65 446.36V436.13M686.15 446.89V435.59M686.65 445.3V439.44M687.15 444.45V440.63M688.15 443.15V441.17M689.15 443.54V437.46M689.15 522.6V499.72M689.65 522.6V509.13M690.15 522.6V509.49M691.65 522.6V519.15M694.65 522.6V520.91M698.15 522.6V519.5M698.65 522.6V519.07M699.15 522.6V520.73M699.65 522.6V521.34M703.15 522.6V519.12M706.15 522.6V511.87M706.65 522.6V521.34M710.65 522.6V520.58M711.65 443.58V439.74M712.15 445.46V436.16M712.15 522.6V503.81M712.65 522.6V507.12M713.15 443.96V437.21M715.65 522.6V497.52M716.65 444.39V435.66M716.65 522.6V496.85M717.65 451.31V437.01M718.65 522.6V506.96M722.15 522.6V521.59M724.15 522.6V515.58M725.15 522.6V516.24M725.65 522.6V517.03M730.65 522.6V521M733.65 522.6V519.44M737.15 522.6V520.49M738.15 522.6V508.95M738.65 522.6V506.89M739.65 452.21V448.73M740.65 452.95V445.47M740.65 522.6V505.34M741.65 454.11V443.27M742.15 457.99V448.38M743.15 451.69V445.39M743.65 522.6V507.03M744.15 522.6V505.98M744.65 453.56V443.24M745.15 453.03V447.12M745.65 453.2V448.25M746.15 462.26V448.94M747.15 455.24V448.86M748.15 522.6V508.26M748.65 522.6V510.38M750.15 522.6V510.05M751.15 522.6V514.99M753.15 522.6V515.1M761.15 522.6V519.06M762.65 522.6V514.63M763.65 522.6V515.3M766.15 522.6V513.02M769.15 458.7V442.71M769.65 447.83V440.57M771.65 448.34V440.57M771.65 522.6V496.06M772.15 453.19V441.92M772.65 522.6V502.95M773.15 446.89V441.78M773.15 522.6V499.2M773.65 449.45V437.19M774.15 449.69V441.74M774.15 522.6V503.79M775.15 445.94V438.5M779.65 522.6V509.8M783.65 522.6V516.66M785.15 522.6V520.35M791.15 522.6V516.59M791.65 522.6V516.19M795.15 522.6V507.39M796.15 522.6V520.11M798.65 452.23V440.6M799.65 448.21V443.58M800.65 448.11V443.05M800.65 522.6V521.38M801.15 450.85V440.29M802.15 452.28V443.42M803.15 522.6V502.09M803.65 448.61V445.87M803.65 522.6V502.88M804.65 450.52V446.66M805.15 522.6V503.02M808.65 522.6V512.34M809.15 522.6V513.35M810.15 522.6V521.6M816.65 522.6V520.62M818.15 522.6V521.6M821.65 522.6V514.43M822.65 522.6V511.45M825.15 522.6V504.37M825.65 522.6V515.42M826.65 447.17V444.12M431.15 449V432M430.68 449V438.05M456.36 458V425M454.62 458V430.21M486.17 454V427.5M486.91 454V434.5M514.82 449V430M514.19 449V437.54M544.36 451.5V432M544.71 451.5V438.39M572.1 447V431M572.41 447V437.47M600.92 449V432M603 449V439.45M629.4 446V423.6M630.57 446V429.94M655.88 451V435M656.8 451V441.24M684.64 447V420.7M685.06 447V425.1M715.03 446V432M715.41 446V438.23M744.41 455V433.4M742.74 455V439.66M771.03 449V434M774.61 449V441.4M798.73 452V435M799.52 452V438.65M404.2 470V452.9" stroke="#1c1c1c" stroke-width="0.6" fill="none"/>
<path d="M403.9 508.35V455.04M404.4 522.45V460.38M404.9 506.88V464.41M405.4 514.17V471.3M405.9 510.17V470.34M406.4 514.4V471.69M406.9 515.47V473.54M407.4 521.15V481.47M407.9 522.6V481.63M408.4 516.58V486.73M408.9 522.6V490.95M409.4 519.86V492.93M409.9 519.5V498.12M410.4 521.06V500.48M410.9 521.83V503.77M411.4 522.6V507.68M411.9 522.6V512.86M412.4 522.6V512.65M412.9 522.6V510.3M413.4 522.6V507.23M413.9 521.75V505.16M414.4 520.94V501.23M414.9 520.7V499.96M415.4 520.44V497.46M415.9 522.6V496.76M416.4 519.18V489.78M416.9 522.6V490.43M417.4 521.85V487.91M417.9 522.6V485.18M418.4 522.6V479.74M418.9 520.83V478.83M419.4 513.6V473.69M419.9 516.23V475.04M420.4 522.51V468.9M420.9 510.64V470.28M421.4 512.48V464.21M421.9 510.86V464.15M422.4 508.73V465.52M422.9 509.05V457.77M423.4 511.06V451.82M423.9 507.65V453.36M424.4 511.16V446.42M424.9 503.4V450.07M425.4 509.97V447.7M425.9 522.6V445.63M426.4 501.73V455.53M426.9 518.75V446.26M427.4 503.16V444.32M427.9 498.79V446.03M428.4 498.49V445.31M428.9 495.22V446.18M429.4 515.91V446.64M429.9 522.07V447.9M430.4 497.59V445.46M430.9 499.99V445.28M431.4 501.09V444.73M431.9 504.69V447.77M432.4 504.94V449.14M432.9 522.6V451.74M433.4 508.03V462.32M433.9 522.6V460.57M434.4 509.35V471.1M434.9 511.57V470.11M435.4 513.13V472.01M435.9 513.46V475.75M436.4 515.82V477.14M436.9 513.55V482.13M437.4 517.98V486.45M437.9 522.6V491.62M438.4 518.53V491.74M438.9 520.35V498.99M439.4 520.1V501.95M439.9 521.33V502.95M440.4 522.52V507.03M440.9 522.6V511.05M441.4 522.6V513.02M441.9 522.6V510.17M442.4 522.6V508.03M442.9 522.1V504.21M443.4 521.61V501.78M443.9 522.6V499.23M444.4 519.71V496.42M444.9 518.19V492.68M445.4 519.43V491.1M445.9 522.6V489.23M446.4 515.21V485.9M446.9 522.58V482.12M447.4 517.25V485.04M447.9 515.67V478.38M448.4 516.4V475.01M448.9 511.07V475.02M449.4 510.13V472.41M449.9 509.04V467.35M450.4 513.64V464.72M450.9 510.74V466.18M451.4 507.51V459.44M451.9 511.96V453.2M452.4 516.65V455.68M452.9 522.6V456.38M453.4 505.57V463.1M453.9 507.2V454.35M454.4 509.08V454.07M454.9 501.28V456.29M455.4 522.6V454.88M455.9 503.25V461.24M456.4 522.43V456.86M456.9 519.29V456.58M457.4 501.09V453.25M457.9 506.5V453.44M458.4 502.71V454.82M458.9 506.64V453.5M459.4 507.2V454.46M459.9 507.33V457.77M460.4 507.21V459.58M460.9 509.81V461.96M461.4 515.89V462.68M461.9 522.6V465.24M462.4 520.3V469.31M462.9 515.16V474.99M463.4 515.14V476.58M463.9 514.66V483.61M464.4 515V488.07M464.9 515.79V486.48M465.4 516.36V488.29M465.9 519.02V492.04M466.4 519.12V493.27M466.9 520.02V496.36M467.4 521.16V500.03M467.9 521.34V504.25M468.4 522.42V506.78M468.9 522.6V510.46M469.4 522.6V512.5M469.9 522.6V510.82M470.4 522.6V509M470.9 522.59V505.73M471.4 521.46V501.88M471.9 520.05V500.66M472.4 519.79V497.99M472.9 519.71V494.87M473.4 522V492.12M473.9 522.39V491.89M474.4 518.08V488.32M474.9 515.5V484.88M475.4 517.35V478.85M475.9 518.75V476.51M476.4 514.41V475.49M476.9 511.54V470.27M477.4 510.98V468.72M477.9 508.63V466.08M478.4 509.38V465.24M478.9 506.51V457.73M479.4 511.05V454.95M479.9 505.8V451.38M480.4 521.94V452.35M480.9 522.6V452.86M481.4 505.31V450.45M481.9 508.68V457.15M482.4 502.88V451.95M482.9 508.74V451.6M483.4 503.89V449.71M483.9 522.6V451.1M484.4 498.56V449.44M484.9 507.45V451.44M485.4 507.86V452.06M485.9 521.4V449.59M486.4 504.15V452.98M486.9 501.4V452.09M487.4 522.6V459.22M487.9 508.83V449.1M488.4 510.6V454.59M488.9 511.79V459.54M489.4 522.29V459.61M489.9 508.69V464.78M490.4 520.52V466.3M490.9 509.15V465.11M491.4 512.46V472.69M491.9 511.82V475.71M492.4 514.01V477.4M492.9 521.16V480.88M493.4 516.41V482.36M493.9 519.02V484.25M494.4 517.15V486.73M494.9 522.29V491.56M495.4 518.89V495.19M495.9 519.9V499.84M496.4 520.26V500.5M496.9 521.63V503.28M497.4 522.31V506.69M497.9 522.6V510.48M498.4 522.6V512.47M498.9 522.6V511.91M499.4 522.6V509.76M499.9 522.4V506.77M500.4 522.6V503.41M500.9 521.28V501.04M501.4 520.14V497.54M501.9 521.98V494.02M502.4 519.24V495.16M502.9 522.6V489.66M503.4 518.42V486.08M503.9 516.68V488.4M504.4 513.75V480.23M504.9 515.59V477.14M505.4 519.62V477.65M505.9 515.82V478.51M506.4 511.21V472.99M506.9 520.31V469.26M507.4 512.94V462.17M507.9 507.46V464.67M508.4 515.1V457.68M508.9 509.35V453.45M509.4 509.88V456.45M509.9 510.89V455M510.4 516.25V448.26M510.9 505.81V453.01M511.4 522.6V453.92M511.9 499.42V451.19M512.4 504.44V445.76M512.9 504.96V452.75M513.4 507.97V447.64M513.9 499.71V446.39M514.4 522.6V447.14M514.9 521.88V445.48M515.4 514.9V446.97M515.9 507.21V454.97M516.4 499.44V445.07M516.9 502.14V446.32M517.4 515.43V445.14M517.9 521.47V451.33M518.4 506V450.63M518.9 511.95V453.89M519.4 508.68V461.19M519.9 521.28V461.18M520.4 509.53V463.03M520.9 522.6V471.67M521.4 512.31V476.38M521.9 514.31V473.35M522.4 516.5V479.54M522.9 520.43V480.89M523.4 515.92V485.56M523.9 516.25V486.03M524.4 518.56V495.43M524.9 522.6V497.76M525.4 520.81V499.15M525.9 522.6V500.61M526.4 522.54V505.46M526.9 522.6V508M527.4 522.6V511.69M527.9 522.6V512.85M528.4 522.6V510.68M528.9 522.33V506.61M529.4 521.34V504.46M529.9 520.54V503.02M530.4 519.85V498.73M530.9 522.6V494.59M531.4 519.41V490.97M531.9 518.03V488.54M532.4 516.5V485.92M532.9 516.26V483.02M533.4 522.6V479.45M533.9 515.82V479.01M534.4 519.63V473.95M534.9 511.31V474.13M535.4 514.8V473.66M535.9 512.09V464.29M536.4 511.6V462.79M536.9 522.37V463.25M537.4 522.6V458.07M537.9 505.21V457.47M538.4 508.95V453.77M538.9 521.93V449.79M539.4 507.36V450.54M539.9 508.78V449.42M540.4 499.77V449.2M540.9 499.75V449.77M541.4 503.46V449.3M541.9 510.64V446.71M542.4 497.34V449.92M542.9 502.87V450.61M543.4 500.41V446.97M543.9 497.43V449.62M544.4 498.28V447.28M544.9 505.86V450.07M545.4 502.89V450.3M545.9 502.72V450.52M546.4 510.51V453.06M546.9 511.35V452.42M547.4 512.26V457.02M547.9 522.42V458.97M548.4 509.51V463.94M548.9 514.62V468.34M549.4 509.09V475.63M549.9 514.16V469.1M550.4 511.61V471.94M550.9 515.41V476.84M551.4 515.89V481.33M551.9 516.02V483.54M552.4 517V489.77M552.9 522.6V491.33M553.4 518.39V494.15M553.9 519.45V496.24M554.4 519.88V500.45M554.9 522.59V501.06M555.4 522.07V504.32M555.9 522.6V507.62M556.4 522.6V511.68M556.9 522.6V513.09M557.4 522.6V509.78M557.9 522.58V507.91M558.4 522.6V505.98M558.9 521V501.46M559.4 520.36V499.69M559.9 522V495.4M560.4 519.08V496M560.9 517.76V490.69M561.4 522.6V487.85M561.9 515.6V485.16M562.4 514.79V482.67M562.9 522.6V478.23M563.4 522.49V476.13M563.9 513.08V471.25M564.4 522.48V472.13M564.9 514.19V468.99M565.4 520.63V464M565.9 521.49V460.25M566.4 511.39V462.02M566.9 508.67V456.05M567.4 507.61V455.58M567.9 521.26V449.98M568.4 506.89V445.08M568.9 507.16V442.65M569.4 504.24V446.01M569.9 509.18V446.54M570.4 508.09V442.7M570.9 500.22V445.12M571.4 506.24V444.14M571.9 522.6V442.12M572.4 497.89V446.74M572.9 522.6V446.42M573.4 509.32V451.6M573.9 497.19V451.95M574.4 501.93V448.49M574.9 522.6V444.64M575.4 507.61V444.52M575.9 508.52V445.6M576.4 504.54V447.87M576.9 509.17V455.03M577.4 520.59V456.14M577.9 518.91V461.23M578.4 508.17V467.18M578.9 522.6V469.62M579.4 522.6V474.95M579.9 522.6V476.94M580.4 516.67V478.12M580.9 516.74V484.6M581.4 516.16V488.06M581.9 518.52V488.86M582.4 519.45V495.43M582.9 521.88V496.63M583.4 521.45V501.58M583.9 522.14V505.94M584.4 522.6V510.49M584.9 522.6V512.7M585.4 522.6V510.87M585.9 522.6V507.9M586.4 522.08V505.69M586.9 521.25V503.6M587.4 520.77V499.94M587.9 519.93V497.28M588.4 522.6V494.47M588.9 517.55V493.57M589.4 517.44V489.71M589.9 520.72V486.06M590.4 514.55V484.47M590.9 516.58V479.58M591.4 522.6V476.1M591.9 518.38V477.18M592.4 510.39V472.49M592.9 509.71V470.22M593.4 513.8V470.36M593.9 511.58V463.11M594.4 508.91V463.83M594.9 511.7V456.59M595.4 522.6V453.78M595.9 503.78V449.25M596.4 511.21V450.76M596.9 509.11V446.49M597.4 501.03V454.65M597.9 522.6V447.61M598.4 499.24V445.12M598.9 500.23V444.01M599.4 499.35V445.32M599.9 522.6V452.18M600.4 517.25V448.38M600.9 511.64V446.82M601.4 501.43V455.06M601.9 522.6V445.94M602.4 503.89V444.63M602.9 504.26V445.38M603.4 517.74V446.78M603.9 522.6V446.94M604.4 503.94V446.85M604.9 504.47V447.88M605.4 508.49V448.76M605.9 504.6V457.14M606.4 510.71V455.78M606.9 517.28V461.11M607.4 522.6V463.57M607.9 510.22V470.03M608.4 512.11V470.7M608.9 515.5V473.36M609.4 512.37V477.51M609.9 518.14V479.29M610.4 517.96V484.06M610.9 516.33V486.1M611.4 522.17V492.22M611.9 522.38V492.34M612.4 519.6V495.51M612.9 519.77V499.34M613.4 521.28V503.38M613.9 522.12V504.86M614.4 522.6V508.01M614.9 522.6V512.59M615.4 522.6V512.78M615.9 522.6V509.63M616.4 522.16V505.49M616.9 521.45V503.14M617.4 520.43V499.95M617.9 519.24V495.08M618.4 518.64V493.2M618.9 518.39V488.71M619.4 515.76V485.36M619.9 516.49V482.5M620.4 522.55V478.33M620.9 512.63V474.54M621.4 515.35V471.05M621.9 522.6V469.59M622.4 513.82V467.51M622.9 510.59V461.43M623.4 512.11V466.29M623.9 512.27V455.66M624.4 522.54V455.94M624.9 510.38V448.76M625.4 521.9V444.32M625.9 502.5V448.64M626.4 500.5V441.37M626.9 510.79V444.73M627.4 508.08V444.02M627.9 504.22V447.33M628.4 513.84V443.45M628.9 496.05V449.84M629.4 504.11V445.37M629.9 494.7V448.2M630.4 505.17V445.35M630.9 502.19V443.11M631.4 503.99V445.85M631.9 501.35V444.02M632.4 511.17V444.46M632.9 500.58V444.31M633.4 522.6V447.77M633.9 514.01V449.32M634.4 505.62V455.77M634.9 511.33V455.51M635.4 508.3V457.29M635.9 514.09V460.71M636.4 522.6V469.11M636.9 512.48V468.63M637.4 513.8V470.77M637.9 512.73V474.71M638.4 516.39V485.41M638.9 517.44V482.09M639.4 515.53V485.8M639.9 518.6V493.4M640.4 521.97V492.04M640.9 519.21V494.9M641.4 521.38V498.19M641.9 521.11V502.95M642.4 521.83V505.94M642.9 522.6V508.44M643.4 522.6V511.74M643.9 522.6V512.45M644.4 522.6V509.12M644.9 522.34V506.68M645.4 521.48V502.59M645.9 520.29V501.09M646.4 522.6V498.19M646.9 519.38V494.75M647.4 522.6V492.61M647.9 522.6V487.26M648.4 516.3V483.44M648.9 516.98V479.96M649.4 517.28V477.25M649.9 513.25V478.96M650.4 515.19V472.99M650.9 510.07V468.66M651.4 512.35V466.68M651.9 515.56V463.97M652.4 512.79V460.72M652.9 511.83V453.97M653.4 521.65V450.97M653.9 508.01V451.84M654.4 520.39V450.46M654.9 507.46V453.41M655.4 515.05V448.94M655.9 498.72V455.87M656.4 500.07V447.11M656.9 510.2V448.7M657.4 495.92V458.52M657.9 496.31V449.31M658.4 504.38V450.17M658.9 502.81V448.7M659.4 508.8V449.69M659.9 522.6V449.87M660.4 508.31V446.29M660.9 504.23V450.01M661.4 506.93V448.5M661.9 508.59V460.19M662.4 522.58V456.85M662.9 520.04V461.75M663.4 508.17V462.57M663.9 514.24V465.66M664.4 521.62V466.42M664.9 522.6V466.85M665.4 522.42V474.03M665.9 511.99V475.66M666.4 515.17V478.41M666.9 521.56V485.08M667.4 516.82V486.36M667.9 517.32V488.46M668.4 519.13V491.55M668.9 519.07V493.92M669.4 519.79V498.22M669.9 520.55V499.42M670.4 521.43V502.74M670.9 522.25V505.56M671.4 522.6V509.3M671.9 522.6V512.07M672.4 522.6V511.96M672.9 522.6V508.5M673.4 522.6V505.51M673.9 521.29V502.12M674.4 522.6V498.86M674.9 519.89V494.35M675.4 522.6V491.9M675.9 518.12V493.05M676.4 522.6V486.94M676.9 522.6V483.71M677.4 520.09V478.52M677.9 515.94V476.16M678.4 522.6V474.58M678.9 518.41V467.5M679.4 514.42V465.28M679.9 509.56V463.5M680.4 506.95V458.94M680.9 507.61V454.91M681.4 510.46V456.62M681.9 522.59V451.21M682.4 507.94V446.49M682.9 522.6V446.57M683.4 499.97V442.93M683.9 505.33V443.75M684.4 497.74V443.97M684.9 496.25V446.78M685.4 500.03V445.36M685.9 506.65V445.89M686.4 505.6V444.3M686.9 507.1V443.45M687.4 500.77V442.05M687.9 496.83V442.15M688.4 505.34V445.78M688.9 500.72V442.54M689.4 510.13V449.32M689.9 510.49V442.88M690.4 504.75V448.44M690.9 507.42V453.13M691.4 520.15V456.58M691.9 522.6V461.66M692.4 509.37V468.02M692.9 514.25V465.96M693.4 509.96V468.39M693.9 522.57V473.29M694.4 521.91V475.72M694.9 516.66V475.36M695.4 513.85V478.98M695.9 515.88V485.7M696.4 522.12V491.29M696.9 517.89V491.3M697.4 519.54V492.99M697.9 520.5V498.72M698.4 520.07V499.04M698.9 521.73V502.83M699.4 522.34V505.99M699.9 522.6V509.59M700.4 522.6V513.6M700.9 522.6V510.47M701.4 522.6V508.42M701.9 521.81V504.61M702.4 522.6V500.97M702.9 520.12V497.97M703.4 521.68V494.98M703.9 519.2V492.95M704.4 516.46V492.36M704.9 519.94V487.15M705.4 514.67V484.36M705.9 512.87V479.61M706.4 522.34V478.52M706.9 522.6V471.59M707.4 510.63V467.35M707.9 508.35V463.28M708.4 513.7V463.8M708.9 507.64V460.74M709.4 505.36V456.72M709.9 508.86V449.3M710.4 521.58V451.22M710.9 505.9V447.09M711.4 507.87V442.58M711.9 504.81V444.46M712.4 508.12V444.53M712.9 501.27V442.96M713.4 522.6V442.31M713.9 501.68V442.13M714.4 493.44V441.23M714.9 511.43V445.81M715.4 498.52V442.94M715.9 522.6V442.45M716.4 497.85V443.39M716.9 497.92V443.8M717.4 500.19V450.31M717.9 500.39V442.02M718.4 507.96V449.27M718.9 508.88V450.7M719.4 503.51V452.06M719.9 507.02V456.28M720.4 510.16V455.92M720.9 522.6V461.46M721.4 514.12V463.38M721.9 522.59V473.14M722.4 510.25V473.98M722.9 521.94V472.81M723.4 516.03V477.94M723.9 516.58V479.76M724.4 519.85V484.32M724.9 517.24V485.76M725.4 518.03V495.77M725.9 518.64V494.8M726.4 520.14V497.01M726.9 521.1V503.46M727.4 521.49V504.26M727.9 522.51V506.64M728.4 522.6V510.56M728.9 522.6V514.01M729.4 522.6V510.51M729.9 522.6V508.3M730.4 522V504.28M730.9 521.52V502.83M731.4 520.65V498.43M731.9 521.14V495.14M732.4 518.8V495.87M732.9 520.89V489.78M733.4 520.44V485.23M733.9 516.15V485.72M734.4 515.45V481.47M734.9 513.57V479.08M735.4 514.22V473.72M735.9 513.05V473.3M736.4 522.6V472.11M736.9 521.49V468.57M737.4 522.6V461.11M737.9 509.95V459.39M738.4 507.89V458.41M738.9 506.64V456.38M739.4 521.97V451.21M739.9 509.51V453.22M740.4 506.34V451.95M740.9 518.97V458.48M741.4 500.79V453.11M741.9 505.45V456.99M742.4 517.93V450.89M742.9 522.6V450.69M743.4 508.03V452.77M743.9 506.98V452.24M744.4 506.23V452.56M744.9 522.6V452.03M745.4 522.41V452.2M745.9 503.54V461.26M746.4 504.17V453.75M746.9 504.7V454.24M747.4 522.6V456.84M747.9 509.26V453.77M748.4 511.38V459.12M748.9 518.41V461.25M749.4 522.6V472.93M749.9 511.05V466.44M750.4 513.8V471.79M750.9 515.99V475.77M751.4 522.6V476.1M751.9 522.6V479.49M752.4 516.11V483.3M752.9 516.1V485.46M753.4 517.49V487.95M753.9 519.44V492.43M754.4 519.03V493.96M754.9 519.58V500.51M755.4 520.08V500.5M755.9 521.66V502.83M756.4 522.03V505.96M756.9 522.6V509.08M757.4 522.6V510.88M757.9 522.6V512.76M758.4 522.6V509.94M758.9 522.49V506.3M759.4 522.6V503.19M759.9 521.81V500.89M760.4 520.72V498.36M760.9 520.06V494.37M761.4 518.71V491.14M761.9 518.04V489.86M762.4 515.63V487.3M762.9 515.51V489.06M763.4 516.3V481.47M763.9 521.78V476.56M764.4 512.2V474.69M764.9 520.95V470.23M765.4 512.53V472.81M765.9 514.02V462.44M766.4 508.2V460.28M766.9 513.02V455.06M767.4 506.19V463.77M767.9 505.29V452.18M768.4 508.83V456.88M768.9 522.6V457.7M769.4 503.3V446.83M769.9 522.6V446.72M770.4 507.62V451.77M770.9 522.53V445.96M771.4 497.06V447.34M771.9 499.44V452.19M772.4 503.95V448.59M772.9 500.2V445.89M773.4 522.6V448.45M773.9 504.79V448.69M774.4 522.6V446.44M774.9 508.28V444.94M775.4 505.14V450.4M775.9 512.36V445.29M776.4 522.6V447.48M776.9 505.8V453.37M777.4 507.03V458.57M777.9 508.45V460.81M778.4 522.6V460.6M778.9 512.93V462.19M779.4 510.8V470.1M779.9 510.49V470.85M780.4 512.26V476.01M780.9 522.6V477.99M781.4 522.6V482.02M781.9 515.86V486.55M782.4 522.49V487.84M782.9 522.6V487.99M783.4 517.66V491.94M783.9 520.07V497.12M784.4 520.75V498.38M784.9 521.35V503.61M785.4 521.93V506.16M785.9 522.6V508.74M786.4 522.6V512.77M786.9 522.6V513.28M787.4 522.6V509.01M787.9 522.22V506.64M788.4 521.67V503.81M788.9 520.56V499.37M789.4 520.17V499.24M789.9 519.68V497.64M790.4 518.17V493.66M790.9 517.59V490.96M791.4 517.19V485.52M791.9 516.74V480.39M792.4 522.6V477.85M792.9 513.87V473.5M793.4 510.64V470.84M793.9 515.42V472.27M794.4 518.48V469.45M794.9 508.39V463.44M795.4 506.56V466.42M795.9 521.11V457.65M796.4 506.32V460.54M796.9 503.89V450.38M797.4 503.18V450.92M797.9 507.7V448.27M798.4 521.53V451.23M798.9 522.39V450.03M799.4 522.6V447.21M799.9 522.6V449.28M800.4 522.38V447.11M800.9 500.5V449.85M801.4 501.85V454.5M801.9 520.04V451.28M802.4 519.68V451.1M802.9 503.09V451.07M803.4 503.88V447.61M803.9 502.31V447.54M804.4 505.57V449.52M804.9 504.02V453.68M805.4 522.6V456.85M805.9 521.12V463.51M806.4 522.6V465.5M806.9 509.58V464.76M807.4 513.46V466.35M807.9 522.6V472.42M808.4 513.34V471.77M808.9 514.35V481.22M809.4 522.6V481.31M809.9 522.6V480.72M810.4 521.83V484.97M810.9 518.56V487.07M811.4 519.54V491.96M811.9 522.6V493.7M812.4 522.6V497.2M812.9 521.15V502.99M813.4 521.8V503.45M813.9 522.57V506.63M814.4 522.6V510.16M814.9 522.6V513.4M815.4 522.6V510.9M815.9 522.6V508.19M816.4 521.62V504.62M816.9 522.6V500.43M817.4 519.62V498.61M817.9 522.6V496.89M818.4 522.29V492.25M818.9 517.66V489.22M819.4 516.65V485.72M819.9 522.6V485.45M820.4 521.27V479.78M820.9 513.28V476.11M821.4 515.43V474.65M821.9 512.78V470.55M822.4 512.45V465.01M822.9 522.6V464.15M823.4 510.61V463.42M823.9 509.13V457.86M824.4 522.6V453.49M824.9 505.37V449.11M825.4 516.42V448.74M825.9 504.81V448.15M826.4 500.52V446.17" stroke="#1c1c1c" stroke-width="1.0" fill="none"/>
<rect x="395.3" y="412.4" width="440.9" height="110.2" fill="none" stroke="#8a8a8a" stroke-width="1.2"/>
<g font-family="'Liberation Serif','Times New Roman',serif" stroke="#111" stroke-width="0.22">
<text x="400" y="427.8" font-size="16.5" text-anchor="start" fill="#111" textLength="17" lengthAdjust="spacingAndGlyphs" >(c)</text>
<text x="565.7" y="426.7" font-size="13.8" text-anchor="start" fill="#111" textLength="78.3" lengthAdjust="spacingAndGlyphs" >Synthetic SSN</text>
<text x="403.9" y="531.8" font-size="9.5" text-anchor="middle" fill="#111" >0</text>
<text x="475.5" y="531.8" font-size="9.5" text-anchor="middle" fill="#111" textLength="24.7" lengthAdjust="spacingAndGlyphs" >10 000</text>
<text x="547.1" y="531.8" font-size="9.5" text-anchor="middle" fill="#111" textLength="24.7" lengthAdjust="spacingAndGlyphs" >20 000</text>
<text x="618.7" y="531.8" font-size="9.5" text-anchor="middle" fill="#111" textLength="24.7" lengthAdjust="spacingAndGlyphs" >30 000</text>
<text x="690.3" y="531.8" font-size="9.5" text-anchor="middle" fill="#111" textLength="24.7" lengthAdjust="spacingAndGlyphs" >40 000</text>
<text x="761.9" y="531.8" font-size="9.5" text-anchor="middle" fill="#111" textLength="24.7" lengthAdjust="spacingAndGlyphs" >50 000</text>
<text x="590.7" y="545.6" font-size="13" fill="#111" textLength="70" lengthAdjust="spacingAndGlyphs">Time <tspan font-style="italic">t</tspan> (days)</text>
</g>
</g>
<g id="f2a">
<path d="M456.4 960.3v-3.2M456.4 749.9v3.2M472.79 960.3v-1.9M472.79 749.9v1.9M489.19 960.3v-1.9M489.19 749.9v1.9M505.58 960.3v-1.9M505.58 749.9v1.9M521.98 960.3v-3.2M521.98 749.9v3.2M538.38 960.3v-1.9M538.38 749.9v1.9M554.77 960.3v-1.9M554.77 749.9v1.9M571.16 960.3v-1.9M571.16 749.9v1.9M587.56 960.3v-3.2M587.56 749.9v3.2M603.95 960.3v-1.9M603.95 749.9v1.9M620.35 960.3v-1.9M620.35 749.9v1.9M636.75 960.3v-1.9M636.75 749.9v1.9M653.14 960.3v-3.2M653.14 749.9v3.2M669.53 960.3v-1.9M669.53 749.9v1.9M685.93 960.3v-1.9M685.93 749.9v1.9M702.32 960.3v-1.9M702.32 749.9v1.9M718.72 960.3v-3.2M718.72 749.9v3.2M735.12 960.3v-1.9M735.12 749.9v1.9M751.51 960.3v-1.9M751.51 749.9v1.9M767.9 960.3v-1.9M767.9 749.9v1.9M784.3 960.3v-3.2M784.3 749.9v3.2M449.5 953.9h3.2M791.4 953.9h-3.2M449.5 945.14h1.9M791.4 945.14h-1.9M449.5 936.39h1.9M791.4 936.39h-1.9M449.5 927.63h1.9M791.4 927.63h-1.9M449.5 918.88h3.2M791.4 918.88h-3.2M449.5 910.12h1.9M791.4 910.12h-1.9M449.5 901.37h1.9M791.4 901.37h-1.9M449.5 892.62h1.9M791.4 892.62h-1.9M449.5 883.86h3.2M791.4 883.86h-3.2M449.5 875.11h1.9M791.4 875.11h-1.9M449.5 866.35h1.9M791.4 866.35h-1.9M449.5 857.6h1.9M791.4 857.6h-1.9M449.5 848.84h3.2M791.4 848.84h-3.2M449.5 840.09h1.9M791.4 840.09h-1.9M449.5 831.33h1.9M791.4 831.33h-1.9M449.5 822.58h1.9M791.4 822.58h-1.9M449.5 813.82h3.2M791.4 813.82h-3.2M449.5 805.06h1.9M791.4 805.06h-1.9M449.5 796.31h1.9M791.4 796.31h-1.9M449.5 787.55h1.9M791.4 787.55h-1.9M449.5 778.8h3.2M791.4 778.8h-3.2M449.5 770.04h1.9M791.4 770.04h-1.9M449.5 761.29h1.9M791.4 761.29h-1.9M449.5 752.53h1.9M791.4 752.53h-1.9" stroke="#6e6e6e" stroke-width="0.9" fill="none"/>
<rect x="449.5" y="749.9" width="341.9" height="210.4" fill="none" stroke="#8c8c8c" stroke-width="1.3"/>
<line x1="456.4" y1="953.9" x2="784.3" y2="778.8" stroke="#444" stroke-width="1" stroke-dasharray="5,4.2"/>
<path d="M456.4 920.63C461.87 919.29 478.26 915.55 489.19 912.58C500.12 909.6 511.05 906.39 521.98 902.77C532.91 899.15 543.84 895.47 554.77 890.86C565.7 886.25 576.63 880.65 587.56 875.1C598.49 869.56 609.42 863.55 620.35 857.59C631.28 851.64 642.21 845.86 653.14 839.38C664.07 832.91 675 825.35 685.93 818.72C696.86 812.1 707.79 806 718.72 799.64C729.65 793.27 740.58 786.83 751.51 780.55C762.44 774.28 778.83 765.08 784.3 761.99" fill="none" stroke="#4a56a6" stroke-width="1" stroke-opacity="0.5"/>
<path d="M456.4 919.93C461.87 918.59 478.26 914.85 489.19 911.88C500.12 908.9 511.05 905.69 521.98 902.07C532.91 898.45 543.84 894.77 554.77 890.16C565.7 885.55 576.63 879.95 587.56 874.4C598.49 868.86 609.42 862.85 620.35 856.89C631.28 850.94 642.21 845.16 653.14 838.68C664.07 832.21 675 824.65 685.93 818.02C696.86 811.4 707.79 805.3 718.72 798.94C729.65 792.57 740.58 786.13 751.51 779.85C762.44 773.58 778.83 764.38 784.3 761.29" fill="none" stroke="#b8323e" stroke-width="1.05"/>
<circle cx="456.4" cy="921.13" r="3" fill="#3a4a9a"/>
<circle cx="489.19" cy="913.08" r="3" fill="#3a4a9a"/>
<circle cx="521.98" cy="903.27" r="3" fill="#3a4a9a"/>
<circle cx="554.77" cy="891.36" r="3" fill="#3a4a9a"/>
<circle cx="587.56" cy="875.6" r="3" fill="#3a4a9a"/>
<circle cx="620.35" cy="858.09" r="3" fill="#3a4a9a"/>
<circle cx="653.14" cy="839.88" r="3" fill="#3a4a9a"/>
<circle cx="685.93" cy="819.22" r="3" fill="#3a4a9a"/>
<circle cx="718.72" cy="800.14" r="3" fill="#3a4a9a"/>
<circle cx="751.51" cy="781.05" r="3" fill="#3a4a9a"/>
<circle cx="784.3" cy="762.49" r="3" fill="#3a4a9a"/>
<path d="M456.4 917.93v4M454.9 917.93h3M454.9 921.93h3" stroke="#c62a35" stroke-width="1"/>
<rect x="453.1" y="916.83" width="6.6" height="6.2" rx="0.8" fill="#c62a35"/>
<path d="M489.19 909.88v4M487.69 909.88h3M487.69 913.88h3" stroke="#c62a35" stroke-width="1"/>
<rect x="485.89" y="908.78" width="6.6" height="6.2" rx="0.8" fill="#c62a35"/>
<path d="M521.98 900.07v4M520.48 900.07h3M520.48 904.07h3" stroke="#c62a35" stroke-width="1"/>
<rect x="518.68" y="898.97" width="6.6" height="6.2" rx="0.8" fill="#c62a35"/>
<path d="M554.77 888.16v4M553.27 888.16h3M553.27 892.16h3" stroke="#c62a35" stroke-width="1"/>
<rect x="551.47" y="887.06" width="6.6" height="6.2" rx="0.8" fill="#c62a35"/>
<path d="M587.56 872.4v4M586.06 872.4h3M586.06 876.4h3" stroke="#c62a35" stroke-width="1"/>
<rect x="584.26" y="871.3" width="6.6" height="6.2" rx="0.8" fill="#c62a35"/>
<path d="M620.35 854.89v4M618.85 854.89h3M618.85 858.89h3" stroke="#c62a35" stroke-width="1"/>
<rect x="617.05" y="853.79" width="6.6" height="6.2" rx="0.8" fill="#c62a35"/>
<path d="M653.14 836.18v5M651.64 836.18h3M651.64 841.18h3" stroke="#c62a35" stroke-width="1"/>
<rect x="649.84" y="835.58" width="6.6" height="6.2" rx="0.8" fill="#c62a35"/>
<path d="M685.93 814.02v8M684.43 814.02h3M684.43 822.02h3" stroke="#c62a35" stroke-width="1"/>
<rect x="682.63" y="814.92" width="6.6" height="6.2" rx="0.8" fill="#c62a35"/>
<path d="M718.72 793.94v10M717.22 793.94h3M717.22 803.94h3" stroke="#c62a35" stroke-width="1"/>
<rect x="715.42" y="795.84" width="6.6" height="6.2" rx="0.8" fill="#c62a35"/>
<path d="M751.51 775.35v9M750.01 775.35h3M750.01 784.35h3" stroke="#c62a35" stroke-width="1"/>
<rect x="748.21" y="776.75" width="6.6" height="6.2" rx="0.8" fill="#c62a35"/>
<path d="M784.3 755.99v10.6M782.8 755.99h3M782.8 766.59h3" stroke="#c62a35" stroke-width="1"/>
<rect x="781" y="758.19" width="6.6" height="6.2" rx="0.8" fill="#c62a35"/>
<g font-family="'Liberation Serif','Times New Roman',serif" stroke="#111" stroke-width="0.22">
<text x="468" y="782.8" font-size="21" text-anchor="start" fill="#111" textLength="21.2" lengthAdjust="spacingAndGlyphs" >(a)</text>
<text x="514.1" y="782.5" font-size="16.5" text-anchor="start" fill="#111" textLength="152.5" lengthAdjust="spacingAndGlyphs" >Mean estimated Hurst</text>
<text x="514.1" y="800.4" font-size="16.5" fill="#111" textLength="158.4" lengthAdjust="spacingAndGlyphs">exponent E [<tspan font-style="italic">Ĥ</tspan>] of SSN</text>
<circle cx="640" cy="892" r="4.6" fill="none" stroke="#3a4a9a" stroke-width="2.3"/>
<path d="M635.6 918l8.6 8.4M644.2 918l-8.6 8.4" stroke="#c62a35" stroke-width="2.6"/>
<text x="649.6" y="895.4" font-size="16.2" text-anchor="start" fill="#111" textLength="106.2" lengthAdjust="spacingAndGlyphs" >fractional noise</text>
<text x="649.6" y="926" font-size="16.2" text-anchor="start" fill="#111" textLength="98.2" lengthAdjust="spacingAndGlyphs" >synthetic SSN</text>
<text x="446.1" y="958" font-size="16.3" text-anchor="end" fill="#111" textLength="19.2" lengthAdjust="spacingAndGlyphs" >0.0</text>
<text x="456.4" y="975" font-size="16.3" text-anchor="middle" fill="#111" textLength="18.6" lengthAdjust="spacingAndGlyphs" >0.0</text>
<text x="446.1" y="922.98" font-size="16.3" text-anchor="end" fill="#111" textLength="19.2" lengthAdjust="spacingAndGlyphs" >0.2</text>
<text x="521.98" y="975" font-size="16.3" text-anchor="middle" fill="#111" textLength="18.6" lengthAdjust="spacingAndGlyphs" >0.2</text>
<text x="446.1" y="887.96" font-size="16.3" text-anchor="end" fill="#111" textLength="19.2" lengthAdjust="spacingAndGlyphs" >0.4</text>
<text x="587.56" y="975" font-size="16.3" text-anchor="middle" fill="#111" textLength="18.6" lengthAdjust="spacingAndGlyphs" >0.4</text>
<text x="446.1" y="852.94" font-size="16.3" text-anchor="end" fill="#111" textLength="19.2" lengthAdjust="spacingAndGlyphs" >0.6</text>
<text x="653.14" y="975" font-size="16.3" text-anchor="middle" fill="#111" textLength="18.6" lengthAdjust="spacingAndGlyphs" >0.6</text>
<text x="446.1" y="817.92" font-size="16.3" text-anchor="end" fill="#111" textLength="19.2" lengthAdjust="spacingAndGlyphs" >0.8</text>
<text x="718.72" y="975" font-size="16.3" text-anchor="middle" fill="#111" textLength="18.6" lengthAdjust="spacingAndGlyphs" >0.8</text>
<text x="446.1" y="782.9" font-size="16.3" text-anchor="end" fill="#111" textLength="19.2" lengthAdjust="spacingAndGlyphs" >1.0</text>
<text x="784.3" y="975" font-size="16.3" text-anchor="middle" fill="#111" textLength="18.6" lengthAdjust="spacingAndGlyphs" >1.0</text>
<text x="602.8" y="982.3" font-size="15.5" text-anchor="middle" fill="#111" font-style="italic" >H</text>
</g>
</g>
<g id="f2b">
<path d="M456.4 1204.3v-3.2M456.4 994.6v3.2M472.76 1204.3v-1.9M472.76 994.6v1.9M489.13 1204.3v-1.9M489.13 994.6v1.9M505.5 1204.3v-1.9M505.5 994.6v1.9M521.86 1204.3v-3.2M521.86 994.6v3.2M538.23 1204.3v-1.9M538.23 994.6v1.9M554.59 1204.3v-1.9M554.59 994.6v1.9M570.96 1204.3v-1.9M570.96 994.6v1.9M587.32 1204.3v-3.2M587.32 994.6v3.2M603.68 1204.3v-1.9M603.68 994.6v1.9M620.05 1204.3v-1.9M620.05 994.6v1.9M636.41 1204.3v-1.9M636.41 994.6v1.9M652.78 1204.3v-3.2M652.78 994.6v3.2M669.14 1204.3v-1.9M669.14 994.6v1.9M685.51 1204.3v-1.9M685.51 994.6v1.9M701.88 1204.3v-1.9M701.88 994.6v1.9M718.24 1204.3v-3.2M718.24 994.6v3.2M734.61 1204.3v-1.9M734.61 994.6v1.9M750.97 1204.3v-1.9M750.97 994.6v1.9M767.34 1204.3v-1.9M767.34 994.6v1.9M783.7 1204.3v-3.2M783.7 994.6v3.2M449.8 1198.3h3.2M790.3 1198.3h-3.2M449.8 1188.43h1.9M790.3 1188.43h-1.9M449.8 1178.56h1.9M790.3 1178.56h-1.9M449.8 1168.69h1.9M790.3 1168.69h-1.9M449.8 1158.82h3.2M790.3 1158.82h-3.2M449.8 1148.95h1.9M790.3 1148.95h-1.9M449.8 1139.08h1.9M790.3 1139.08h-1.9M449.8 1129.21h1.9M790.3 1129.21h-1.9M449.8 1119.34h3.2M790.3 1119.34h-3.2M449.8 1109.47h1.9M790.3 1109.47h-1.9M449.8 1099.6h1.9M790.3 1099.6h-1.9M449.8 1089.73h1.9M790.3 1089.73h-1.9M449.8 1079.86h3.2M790.3 1079.86h-3.2M449.8 1069.99h1.9M790.3 1069.99h-1.9M449.8 1060.12h1.9M790.3 1060.12h-1.9M449.8 1050.25h1.9M790.3 1050.25h-1.9M449.8 1040.38h3.2M790.3 1040.38h-3.2M449.8 1030.51h1.9M790.3 1030.51h-1.9M449.8 1020.64h1.9M790.3 1020.64h-1.9M449.8 1010.77h1.9M790.3 1010.77h-1.9M449.8 1000.9h3.2M790.3 1000.9h-3.2" stroke="#6e6e6e" stroke-width="0.9" fill="none"/>
<rect x="449.8" y="994.6" width="340.5" height="209.7" fill="none" stroke="#8c8c8c" stroke-width="1.3"/>
<rect x="678.5" y="1005.5" width="24.8" height="187.8" fill="none" stroke="#d8925a" stroke-width="1"/>
<path d="M456.4 1198.5H672.5C675 1198 677 1195.5 678.7 1193.3C680.6 1191 681.6 1189 682.2 1187.1C683.3 1183 684.3 1179 684.3 1174.6L685.7 1156.5L687.8 1128.8L689.8 1101L691.9 1073.3C692.5 1064 693 1058 694 1052.4C695 1045 695.7 1040 696.8 1035.8C698 1028 699 1022 700.2 1017.8C701 1013 702 1009 703 1006C704.5 1003.5 705.5 1002.5 707.2 1002.2C710 1001.6 712 1001.5 715.5 1001.5H783.5" fill="none" stroke="#222" stroke-width="0.9"/>
<path d="M683 1175.3H698.8" stroke="#111" stroke-width="1.2"/>
<path d="M680.1 1175.3l4.4-2.4v4.8zM701.6 1175.3l-4.4-2.4v4.8z" fill="#111"/>
<path d="M709.3 1009V1186" stroke="#111" stroke-width="2.2"/>
<path d="M709.3 1004.4l-3.3 6.4h6.6zM709.3 1190.7l-3.3-6.4h6.6z" fill="#111"/>
<path d="M564.9 1135.5L574.4 1139.4L584.8 1143.3L600.5 1150.8L604.4 1151.5L619.3 1157.8" fill="none" stroke="#222" stroke-width="1"/>
<path d="M623.8 1159.5l-4.6-0.2 1.6-3.4z" fill="#222"/>
<g font-family="'Liberation Serif','Times New Roman',serif" stroke="#111" stroke-width="0.22">
<text x="471.3" y="1019.2" font-size="21" text-anchor="start" fill="#111" textLength="23.2" lengthAdjust="spacingAndGlyphs" >(b)</text>
<text x="470.5" y="1047.7" font-size="15.5" text-anchor="start" fill="#111" textLength="80.9" lengthAdjust="spacingAndGlyphs" >Conditional</text>
<text x="470.5" y="1064.9" font-size="15.5" text-anchor="start" fill="#111" textLength="83.2" lengthAdjust="spacingAndGlyphs" >distribution:</text>
<text x="470.3" y="1084.3" font-size="15.5" fill="#111" textLength="103.4" lengthAdjust="spacingAndGlyphs"><tspan font-style="italic">P</tspan>(<tspan font-style="italic">H</tspan>|<tspan font-style="italic">Ĥ</tspan>= 0.78)</text>
<text x="470.5" y="1122.6" font-size="15.5" text-anchor="start" fill="#111" textLength="110.6" lengthAdjust="spacingAndGlyphs" >95% confidence</text>
<text x="474.6" y="1143.1" font-size="15.5" text-anchor="start" fill="#111" textLength="51.5" lengthAdjust="spacingAndGlyphs" >interval</text>
<text transform="translate(727.6 1121.8) rotate(-90)" font-size="15.5" fill="#111" textLength="24.9" lengthAdjust="spacingAndGlyphs">0.95</text>
<text x="446.1" y="1202.1" font-size="16.3" text-anchor="end" fill="#111" textLength="19.2" lengthAdjust="spacingAndGlyphs" >0.0</text>
<text x="456.4" y="1219.6" font-size="16.3" text-anchor="middle" fill="#111" textLength="18.6" lengthAdjust="spacingAndGlyphs" >0.0</text>
<text x="446.1" y="1162.62" font-size="16.3" text-anchor="end" fill="#111" textLength="19.2" lengthAdjust="spacingAndGlyphs" >0.2</text>
<text x="521.86" y="1219.6" font-size="16.3" text-anchor="middle" fill="#111" textLength="18.6" lengthAdjust="spacingAndGlyphs" >0.2</text>
<text x="446.1" y="1123.14" font-size="16.3" text-anchor="end" fill="#111" textLength="19.2" lengthAdjust="spacingAndGlyphs" >0.4</text>
<text x="587.32" y="1219.6" font-size="16.3" text-anchor="middle" fill="#111" textLength="18.6" lengthAdjust="spacingAndGlyphs" >0.4</text>
<text x="446.1" y="1083.66" font-size="16.3" text-anchor="end" fill="#111" textLength="19.2" lengthAdjust="spacingAndGlyphs" >0.6</text>
<text x="652.78" y="1219.6" font-size="16.3" text-anchor="middle" fill="#111" textLength="18.6" lengthAdjust="spacingAndGlyphs" >0.6</text>
<text x="446.1" y="1044.18" font-size="16.3" text-anchor="end" fill="#111" textLength="19.2" lengthAdjust="spacingAndGlyphs" >0.8</text>
<text x="718.24" y="1219.6" font-size="16.3" text-anchor="middle" fill="#111" textLength="18.6" lengthAdjust="spacingAndGlyphs" >0.8</text>
<text x="446.1" y="1004.7" font-size="16.3" text-anchor="end" fill="#111" textLength="19.2" lengthAdjust="spacingAndGlyphs" >1.0</text>
<text x="783.7" y="1219.6" font-size="16.3" text-anchor="middle" fill="#111" textLength="18.6" lengthAdjust="spacingAndGlyphs" >1.0</text>
<text x="621.4" y="1230.5" font-size="15.5" text-anchor="middle" fill="#111" font-style="italic" >H</text>
</g>
</g>
<rect x="0" y="1584" width="1225" height="1" fill="#000"/>
<rect x="1224" y="1583" width="1" height="2" fill="#000"/>
</svg>
</body></html>
